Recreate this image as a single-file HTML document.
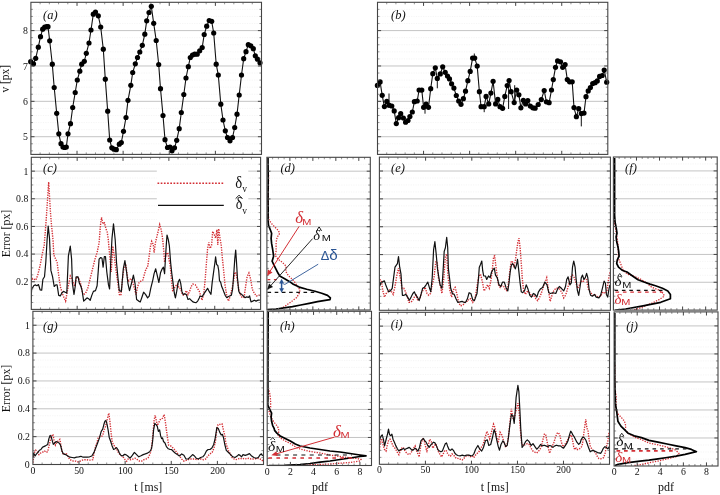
<!DOCTYPE html>
<html><head><meta charset="utf-8"><style>
html,body{margin:0;padding:0;background:#fff;}
body{width:720px;height:495px;overflow:hidden;font-family:"Liberation Serif",serif;}
svg{display:block;}
</style></head><body>
<svg width="720" height="495" viewBox="0 0 720 495" style="filter:blur(0.3px)">
<rect width="720" height="495" fill="#fff"/>
<defs><clipPath id="ca"><rect x="30.9" y="2.3" width="230.6" height="152.1"/></clipPath><clipPath id="cb"><rect x="377.5" y="2.3" width="230.3" height="152.1"/></clipPath><clipPath id="cc"><rect x="31.3" y="157.3" width="229.3" height="152.1"/></clipPath><clipPath id="ce"><rect x="379.4" y="157.1" width="231" height="153.2"/></clipPath><clipPath id="cg"><rect x="32.9" y="311.3" width="230.6" height="153.2"/></clipPath><clipPath id="ci"><rect x="379.4" y="312.3" width="230.1" height="152"/></clipPath><clipPath id="cd"><rect x="266.9" y="157.3" width="103.4" height="152.7"/></clipPath><clipPath id="cf"><rect x="613.4" y="157" width="103.8" height="153.1"/></clipPath><clipPath id="ch"><rect x="267.2" y="311.3" width="104.3" height="154.2"/></clipPath><clipPath id="cj"><rect x="614.1" y="311.9" width="103.9" height="154.1"/></clipPath></defs>
<line x1="30.9" y1="150.86" x2="261.5" y2="150.86" stroke="#f2f2f2" stroke-width="0.8" stroke-dasharray="1.2,1.2"/>
<line x1="30.9" y1="143.79" x2="261.5" y2="143.79" stroke="#f2f2f2" stroke-width="0.8" stroke-dasharray="1.2,1.2"/>
<line x1="30.9" y1="129.64" x2="261.5" y2="129.64" stroke="#f2f2f2" stroke-width="0.8" stroke-dasharray="1.2,1.2"/>
<line x1="30.9" y1="122.57" x2="261.5" y2="122.57" stroke="#f2f2f2" stroke-width="0.8" stroke-dasharray="1.2,1.2"/>
<line x1="30.9" y1="115.49" x2="261.5" y2="115.49" stroke="#f2f2f2" stroke-width="0.8" stroke-dasharray="1.2,1.2"/>
<line x1="30.9" y1="108.42" x2="261.5" y2="108.42" stroke="#f2f2f2" stroke-width="0.8" stroke-dasharray="1.2,1.2"/>
<line x1="30.9" y1="94.27" x2="261.5" y2="94.27" stroke="#f2f2f2" stroke-width="0.8" stroke-dasharray="1.2,1.2"/>
<line x1="30.9" y1="87.19" x2="261.5" y2="87.19" stroke="#f2f2f2" stroke-width="0.8" stroke-dasharray="1.2,1.2"/>
<line x1="30.9" y1="80.12" x2="261.5" y2="80.12" stroke="#f2f2f2" stroke-width="0.8" stroke-dasharray="1.2,1.2"/>
<line x1="30.9" y1="73.04" x2="261.5" y2="73.04" stroke="#f2f2f2" stroke-width="0.8" stroke-dasharray="1.2,1.2"/>
<line x1="30.9" y1="58.9" x2="261.5" y2="58.9" stroke="#f2f2f2" stroke-width="0.8" stroke-dasharray="1.2,1.2"/>
<line x1="30.9" y1="51.82" x2="261.5" y2="51.82" stroke="#f2f2f2" stroke-width="0.8" stroke-dasharray="1.2,1.2"/>
<line x1="30.9" y1="44.75" x2="261.5" y2="44.75" stroke="#f2f2f2" stroke-width="0.8" stroke-dasharray="1.2,1.2"/>
<line x1="30.9" y1="37.67" x2="261.5" y2="37.67" stroke="#f2f2f2" stroke-width="0.8" stroke-dasharray="1.2,1.2"/>
<line x1="30.9" y1="23.52" x2="261.5" y2="23.52" stroke="#f2f2f2" stroke-width="0.8" stroke-dasharray="1.2,1.2"/>
<line x1="30.9" y1="16.45" x2="261.5" y2="16.45" stroke="#f2f2f2" stroke-width="0.8" stroke-dasharray="1.2,1.2"/>
<line x1="30.9" y1="9.37" x2="261.5" y2="9.37" stroke="#f2f2f2" stroke-width="0.8" stroke-dasharray="1.2,1.2"/>
<line x1="30.9" y1="136.71" x2="261.5" y2="136.71" stroke="#c4c4c4" stroke-width="1"/>
<line x1="30.9" y1="101.34" x2="261.5" y2="101.34" stroke="#c4c4c4" stroke-width="1"/>
<line x1="30.9" y1="65.97" x2="261.5" y2="65.97" stroke="#c4c4c4" stroke-width="1"/>
<line x1="30.9" y1="30.6" x2="261.5" y2="30.6" stroke="#c4c4c4" stroke-width="1"/>
<line x1="377.5" y1="150.86" x2="607.8" y2="150.86" stroke="#f2f2f2" stroke-width="0.8" stroke-dasharray="1.2,1.2"/>
<line x1="377.5" y1="143.79" x2="607.8" y2="143.79" stroke="#f2f2f2" stroke-width="0.8" stroke-dasharray="1.2,1.2"/>
<line x1="377.5" y1="129.64" x2="607.8" y2="129.64" stroke="#f2f2f2" stroke-width="0.8" stroke-dasharray="1.2,1.2"/>
<line x1="377.5" y1="122.57" x2="607.8" y2="122.57" stroke="#f2f2f2" stroke-width="0.8" stroke-dasharray="1.2,1.2"/>
<line x1="377.5" y1="115.49" x2="607.8" y2="115.49" stroke="#f2f2f2" stroke-width="0.8" stroke-dasharray="1.2,1.2"/>
<line x1="377.5" y1="108.42" x2="607.8" y2="108.42" stroke="#f2f2f2" stroke-width="0.8" stroke-dasharray="1.2,1.2"/>
<line x1="377.5" y1="94.27" x2="607.8" y2="94.27" stroke="#f2f2f2" stroke-width="0.8" stroke-dasharray="1.2,1.2"/>
<line x1="377.5" y1="87.19" x2="607.8" y2="87.19" stroke="#f2f2f2" stroke-width="0.8" stroke-dasharray="1.2,1.2"/>
<line x1="377.5" y1="80.12" x2="607.8" y2="80.12" stroke="#f2f2f2" stroke-width="0.8" stroke-dasharray="1.2,1.2"/>
<line x1="377.5" y1="73.04" x2="607.8" y2="73.04" stroke="#f2f2f2" stroke-width="0.8" stroke-dasharray="1.2,1.2"/>
<line x1="377.5" y1="58.9" x2="607.8" y2="58.9" stroke="#f2f2f2" stroke-width="0.8" stroke-dasharray="1.2,1.2"/>
<line x1="377.5" y1="51.82" x2="607.8" y2="51.82" stroke="#f2f2f2" stroke-width="0.8" stroke-dasharray="1.2,1.2"/>
<line x1="377.5" y1="44.75" x2="607.8" y2="44.75" stroke="#f2f2f2" stroke-width="0.8" stroke-dasharray="1.2,1.2"/>
<line x1="377.5" y1="37.67" x2="607.8" y2="37.67" stroke="#f2f2f2" stroke-width="0.8" stroke-dasharray="1.2,1.2"/>
<line x1="377.5" y1="23.52" x2="607.8" y2="23.52" stroke="#f2f2f2" stroke-width="0.8" stroke-dasharray="1.2,1.2"/>
<line x1="377.5" y1="16.45" x2="607.8" y2="16.45" stroke="#f2f2f2" stroke-width="0.8" stroke-dasharray="1.2,1.2"/>
<line x1="377.5" y1="9.37" x2="607.8" y2="9.37" stroke="#f2f2f2" stroke-width="0.8" stroke-dasharray="1.2,1.2"/>
<line x1="377.5" y1="136.71" x2="607.8" y2="136.71" stroke="#c4c4c4" stroke-width="1"/>
<line x1="377.5" y1="101.34" x2="607.8" y2="101.34" stroke="#c4c4c4" stroke-width="1"/>
<line x1="377.5" y1="65.97" x2="607.8" y2="65.97" stroke="#c4c4c4" stroke-width="1"/>
<line x1="377.5" y1="30.6" x2="607.8" y2="30.6" stroke="#c4c4c4" stroke-width="1"/>
<line x1="31.3" y1="302.49" x2="260.6" y2="302.49" stroke="#f2f2f2" stroke-width="0.8" stroke-dasharray="1.2,1.2"/>
<line x1="31.3" y1="295.57" x2="260.6" y2="295.57" stroke="#f2f2f2" stroke-width="0.8" stroke-dasharray="1.2,1.2"/>
<line x1="31.3" y1="288.66" x2="260.6" y2="288.66" stroke="#f2f2f2" stroke-width="0.8" stroke-dasharray="1.2,1.2"/>
<line x1="31.3" y1="274.83" x2="260.6" y2="274.83" stroke="#f2f2f2" stroke-width="0.8" stroke-dasharray="1.2,1.2"/>
<line x1="31.3" y1="267.92" x2="260.6" y2="267.92" stroke="#f2f2f2" stroke-width="0.8" stroke-dasharray="1.2,1.2"/>
<line x1="31.3" y1="261" x2="260.6" y2="261" stroke="#f2f2f2" stroke-width="0.8" stroke-dasharray="1.2,1.2"/>
<line x1="31.3" y1="247.18" x2="260.6" y2="247.18" stroke="#f2f2f2" stroke-width="0.8" stroke-dasharray="1.2,1.2"/>
<line x1="31.3" y1="240.26" x2="260.6" y2="240.26" stroke="#f2f2f2" stroke-width="0.8" stroke-dasharray="1.2,1.2"/>
<line x1="31.3" y1="233.35" x2="260.6" y2="233.35" stroke="#f2f2f2" stroke-width="0.8" stroke-dasharray="1.2,1.2"/>
<line x1="31.3" y1="219.52" x2="260.6" y2="219.52" stroke="#f2f2f2" stroke-width="0.8" stroke-dasharray="1.2,1.2"/>
<line x1="31.3" y1="212.61" x2="260.6" y2="212.61" stroke="#f2f2f2" stroke-width="0.8" stroke-dasharray="1.2,1.2"/>
<line x1="31.3" y1="205.7" x2="260.6" y2="205.7" stroke="#f2f2f2" stroke-width="0.8" stroke-dasharray="1.2,1.2"/>
<line x1="31.3" y1="191.87" x2="260.6" y2="191.87" stroke="#f2f2f2" stroke-width="0.8" stroke-dasharray="1.2,1.2"/>
<line x1="31.3" y1="184.95" x2="260.6" y2="184.95" stroke="#f2f2f2" stroke-width="0.8" stroke-dasharray="1.2,1.2"/>
<line x1="31.3" y1="178.04" x2="260.6" y2="178.04" stroke="#f2f2f2" stroke-width="0.8" stroke-dasharray="1.2,1.2"/>
<line x1="31.3" y1="164.21" x2="260.6" y2="164.21" stroke="#f2f2f2" stroke-width="0.8" stroke-dasharray="1.2,1.2"/>
<line x1="31.3" y1="281.75" x2="260.6" y2="281.75" stroke="#c4c4c4" stroke-width="1"/>
<line x1="31.3" y1="254.09" x2="260.6" y2="254.09" stroke="#c4c4c4" stroke-width="1"/>
<line x1="31.3" y1="226.44" x2="260.6" y2="226.44" stroke="#c4c4c4" stroke-width="1"/>
<line x1="31.3" y1="198.78" x2="260.6" y2="198.78" stroke="#c4c4c4" stroke-width="1"/>
<line x1="31.3" y1="171.13" x2="260.6" y2="171.13" stroke="#c4c4c4" stroke-width="1"/>
<line x1="379.4" y1="303.34" x2="610.4" y2="303.34" stroke="#f2f2f2" stroke-width="0.8" stroke-dasharray="1.2,1.2"/>
<line x1="379.4" y1="296.37" x2="610.4" y2="296.37" stroke="#f2f2f2" stroke-width="0.8" stroke-dasharray="1.2,1.2"/>
<line x1="379.4" y1="289.41" x2="610.4" y2="289.41" stroke="#f2f2f2" stroke-width="0.8" stroke-dasharray="1.2,1.2"/>
<line x1="379.4" y1="275.48" x2="610.4" y2="275.48" stroke="#f2f2f2" stroke-width="0.8" stroke-dasharray="1.2,1.2"/>
<line x1="379.4" y1="268.52" x2="610.4" y2="268.52" stroke="#f2f2f2" stroke-width="0.8" stroke-dasharray="1.2,1.2"/>
<line x1="379.4" y1="261.55" x2="610.4" y2="261.55" stroke="#f2f2f2" stroke-width="0.8" stroke-dasharray="1.2,1.2"/>
<line x1="379.4" y1="247.63" x2="610.4" y2="247.63" stroke="#f2f2f2" stroke-width="0.8" stroke-dasharray="1.2,1.2"/>
<line x1="379.4" y1="240.66" x2="610.4" y2="240.66" stroke="#f2f2f2" stroke-width="0.8" stroke-dasharray="1.2,1.2"/>
<line x1="379.4" y1="233.7" x2="610.4" y2="233.7" stroke="#f2f2f2" stroke-width="0.8" stroke-dasharray="1.2,1.2"/>
<line x1="379.4" y1="219.77" x2="610.4" y2="219.77" stroke="#f2f2f2" stroke-width="0.8" stroke-dasharray="1.2,1.2"/>
<line x1="379.4" y1="212.81" x2="610.4" y2="212.81" stroke="#f2f2f2" stroke-width="0.8" stroke-dasharray="1.2,1.2"/>
<line x1="379.4" y1="205.85" x2="610.4" y2="205.85" stroke="#f2f2f2" stroke-width="0.8" stroke-dasharray="1.2,1.2"/>
<line x1="379.4" y1="191.92" x2="610.4" y2="191.92" stroke="#f2f2f2" stroke-width="0.8" stroke-dasharray="1.2,1.2"/>
<line x1="379.4" y1="184.95" x2="610.4" y2="184.95" stroke="#f2f2f2" stroke-width="0.8" stroke-dasharray="1.2,1.2"/>
<line x1="379.4" y1="177.99" x2="610.4" y2="177.99" stroke="#f2f2f2" stroke-width="0.8" stroke-dasharray="1.2,1.2"/>
<line x1="379.4" y1="164.06" x2="610.4" y2="164.06" stroke="#f2f2f2" stroke-width="0.8" stroke-dasharray="1.2,1.2"/>
<line x1="379.4" y1="282.45" x2="610.4" y2="282.45" stroke="#c4c4c4" stroke-width="1"/>
<line x1="379.4" y1="254.59" x2="610.4" y2="254.59" stroke="#c4c4c4" stroke-width="1"/>
<line x1="379.4" y1="226.74" x2="610.4" y2="226.74" stroke="#c4c4c4" stroke-width="1"/>
<line x1="379.4" y1="198.88" x2="610.4" y2="198.88" stroke="#c4c4c4" stroke-width="1"/>
<line x1="379.4" y1="171.03" x2="610.4" y2="171.03" stroke="#c4c4c4" stroke-width="1"/>
<line x1="32.9" y1="457.54" x2="263.5" y2="457.54" stroke="#f2f2f2" stroke-width="0.8" stroke-dasharray="1.2,1.2"/>
<line x1="32.9" y1="450.57" x2="263.5" y2="450.57" stroke="#f2f2f2" stroke-width="0.8" stroke-dasharray="1.2,1.2"/>
<line x1="32.9" y1="443.61" x2="263.5" y2="443.61" stroke="#f2f2f2" stroke-width="0.8" stroke-dasharray="1.2,1.2"/>
<line x1="32.9" y1="429.68" x2="263.5" y2="429.68" stroke="#f2f2f2" stroke-width="0.8" stroke-dasharray="1.2,1.2"/>
<line x1="32.9" y1="422.72" x2="263.5" y2="422.72" stroke="#f2f2f2" stroke-width="0.8" stroke-dasharray="1.2,1.2"/>
<line x1="32.9" y1="415.75" x2="263.5" y2="415.75" stroke="#f2f2f2" stroke-width="0.8" stroke-dasharray="1.2,1.2"/>
<line x1="32.9" y1="401.83" x2="263.5" y2="401.83" stroke="#f2f2f2" stroke-width="0.8" stroke-dasharray="1.2,1.2"/>
<line x1="32.9" y1="394.86" x2="263.5" y2="394.86" stroke="#f2f2f2" stroke-width="0.8" stroke-dasharray="1.2,1.2"/>
<line x1="32.9" y1="387.9" x2="263.5" y2="387.9" stroke="#f2f2f2" stroke-width="0.8" stroke-dasharray="1.2,1.2"/>
<line x1="32.9" y1="373.97" x2="263.5" y2="373.97" stroke="#f2f2f2" stroke-width="0.8" stroke-dasharray="1.2,1.2"/>
<line x1="32.9" y1="367.01" x2="263.5" y2="367.01" stroke="#f2f2f2" stroke-width="0.8" stroke-dasharray="1.2,1.2"/>
<line x1="32.9" y1="360.05" x2="263.5" y2="360.05" stroke="#f2f2f2" stroke-width="0.8" stroke-dasharray="1.2,1.2"/>
<line x1="32.9" y1="346.12" x2="263.5" y2="346.12" stroke="#f2f2f2" stroke-width="0.8" stroke-dasharray="1.2,1.2"/>
<line x1="32.9" y1="339.15" x2="263.5" y2="339.15" stroke="#f2f2f2" stroke-width="0.8" stroke-dasharray="1.2,1.2"/>
<line x1="32.9" y1="332.19" x2="263.5" y2="332.19" stroke="#f2f2f2" stroke-width="0.8" stroke-dasharray="1.2,1.2"/>
<line x1="32.9" y1="318.26" x2="263.5" y2="318.26" stroke="#f2f2f2" stroke-width="0.8" stroke-dasharray="1.2,1.2"/>
<line x1="32.9" y1="436.65" x2="263.5" y2="436.65" stroke="#c4c4c4" stroke-width="1"/>
<line x1="32.9" y1="408.79" x2="263.5" y2="408.79" stroke="#c4c4c4" stroke-width="1"/>
<line x1="32.9" y1="380.94" x2="263.5" y2="380.94" stroke="#c4c4c4" stroke-width="1"/>
<line x1="32.9" y1="353.08" x2="263.5" y2="353.08" stroke="#c4c4c4" stroke-width="1"/>
<line x1="32.9" y1="325.23" x2="263.5" y2="325.23" stroke="#c4c4c4" stroke-width="1"/>
<line x1="379.4" y1="457.39" x2="609.5" y2="457.39" stroke="#f2f2f2" stroke-width="0.8" stroke-dasharray="1.2,1.2"/>
<line x1="379.4" y1="450.48" x2="609.5" y2="450.48" stroke="#f2f2f2" stroke-width="0.8" stroke-dasharray="1.2,1.2"/>
<line x1="379.4" y1="443.57" x2="609.5" y2="443.57" stroke="#f2f2f2" stroke-width="0.8" stroke-dasharray="1.2,1.2"/>
<line x1="379.4" y1="429.75" x2="609.5" y2="429.75" stroke="#f2f2f2" stroke-width="0.8" stroke-dasharray="1.2,1.2"/>
<line x1="379.4" y1="422.85" x2="609.5" y2="422.85" stroke="#f2f2f2" stroke-width="0.8" stroke-dasharray="1.2,1.2"/>
<line x1="379.4" y1="415.94" x2="609.5" y2="415.94" stroke="#f2f2f2" stroke-width="0.8" stroke-dasharray="1.2,1.2"/>
<line x1="379.4" y1="402.12" x2="609.5" y2="402.12" stroke="#f2f2f2" stroke-width="0.8" stroke-dasharray="1.2,1.2"/>
<line x1="379.4" y1="395.21" x2="609.5" y2="395.21" stroke="#f2f2f2" stroke-width="0.8" stroke-dasharray="1.2,1.2"/>
<line x1="379.4" y1="388.3" x2="609.5" y2="388.3" stroke="#f2f2f2" stroke-width="0.8" stroke-dasharray="1.2,1.2"/>
<line x1="379.4" y1="374.48" x2="609.5" y2="374.48" stroke="#f2f2f2" stroke-width="0.8" stroke-dasharray="1.2,1.2"/>
<line x1="379.4" y1="367.57" x2="609.5" y2="367.57" stroke="#f2f2f2" stroke-width="0.8" stroke-dasharray="1.2,1.2"/>
<line x1="379.4" y1="360.66" x2="609.5" y2="360.66" stroke="#f2f2f2" stroke-width="0.8" stroke-dasharray="1.2,1.2"/>
<line x1="379.4" y1="346.85" x2="609.5" y2="346.85" stroke="#f2f2f2" stroke-width="0.8" stroke-dasharray="1.2,1.2"/>
<line x1="379.4" y1="339.94" x2="609.5" y2="339.94" stroke="#f2f2f2" stroke-width="0.8" stroke-dasharray="1.2,1.2"/>
<line x1="379.4" y1="333.03" x2="609.5" y2="333.03" stroke="#f2f2f2" stroke-width="0.8" stroke-dasharray="1.2,1.2"/>
<line x1="379.4" y1="319.21" x2="609.5" y2="319.21" stroke="#f2f2f2" stroke-width="0.8" stroke-dasharray="1.2,1.2"/>
<line x1="379.4" y1="436.66" x2="609.5" y2="436.66" stroke="#c4c4c4" stroke-width="1"/>
<line x1="379.4" y1="409.03" x2="609.5" y2="409.03" stroke="#c4c4c4" stroke-width="1"/>
<line x1="379.4" y1="381.39" x2="609.5" y2="381.39" stroke="#c4c4c4" stroke-width="1"/>
<line x1="379.4" y1="353.75" x2="609.5" y2="353.75" stroke="#c4c4c4" stroke-width="1"/>
<line x1="379.4" y1="326.12" x2="609.5" y2="326.12" stroke="#c4c4c4" stroke-width="1"/>
<line x1="266.9" y1="303.06" x2="370.3" y2="303.06" stroke="#f2f2f2" stroke-width="0.8" stroke-dasharray="1.2,1.2"/>
<line x1="266.9" y1="296.12" x2="370.3" y2="296.12" stroke="#f2f2f2" stroke-width="0.8" stroke-dasharray="1.2,1.2"/>
<line x1="266.9" y1="289.18" x2="370.3" y2="289.18" stroke="#f2f2f2" stroke-width="0.8" stroke-dasharray="1.2,1.2"/>
<line x1="266.9" y1="275.3" x2="370.3" y2="275.3" stroke="#f2f2f2" stroke-width="0.8" stroke-dasharray="1.2,1.2"/>
<line x1="266.9" y1="268.35" x2="370.3" y2="268.35" stroke="#f2f2f2" stroke-width="0.8" stroke-dasharray="1.2,1.2"/>
<line x1="266.9" y1="261.41" x2="370.3" y2="261.41" stroke="#f2f2f2" stroke-width="0.8" stroke-dasharray="1.2,1.2"/>
<line x1="266.9" y1="247.53" x2="370.3" y2="247.53" stroke="#f2f2f2" stroke-width="0.8" stroke-dasharray="1.2,1.2"/>
<line x1="266.9" y1="240.59" x2="370.3" y2="240.59" stroke="#f2f2f2" stroke-width="0.8" stroke-dasharray="1.2,1.2"/>
<line x1="266.9" y1="233.65" x2="370.3" y2="233.65" stroke="#f2f2f2" stroke-width="0.8" stroke-dasharray="1.2,1.2"/>
<line x1="266.9" y1="219.77" x2="370.3" y2="219.77" stroke="#f2f2f2" stroke-width="0.8" stroke-dasharray="1.2,1.2"/>
<line x1="266.9" y1="212.83" x2="370.3" y2="212.83" stroke="#f2f2f2" stroke-width="0.8" stroke-dasharray="1.2,1.2"/>
<line x1="266.9" y1="205.89" x2="370.3" y2="205.89" stroke="#f2f2f2" stroke-width="0.8" stroke-dasharray="1.2,1.2"/>
<line x1="266.9" y1="192" x2="370.3" y2="192" stroke="#f2f2f2" stroke-width="0.8" stroke-dasharray="1.2,1.2"/>
<line x1="266.9" y1="185.06" x2="370.3" y2="185.06" stroke="#f2f2f2" stroke-width="0.8" stroke-dasharray="1.2,1.2"/>
<line x1="266.9" y1="178.12" x2="370.3" y2="178.12" stroke="#f2f2f2" stroke-width="0.8" stroke-dasharray="1.2,1.2"/>
<line x1="266.9" y1="164.24" x2="370.3" y2="164.24" stroke="#f2f2f2" stroke-width="0.8" stroke-dasharray="1.2,1.2"/>
<line x1="266.9" y1="282.24" x2="370.3" y2="282.24" stroke="#c4c4c4" stroke-width="1"/>
<line x1="266.9" y1="254.47" x2="370.3" y2="254.47" stroke="#c4c4c4" stroke-width="1"/>
<line x1="266.9" y1="226.71" x2="370.3" y2="226.71" stroke="#c4c4c4" stroke-width="1"/>
<line x1="266.9" y1="198.95" x2="370.3" y2="198.95" stroke="#c4c4c4" stroke-width="1"/>
<line x1="266.9" y1="171.18" x2="370.3" y2="171.18" stroke="#c4c4c4" stroke-width="1"/>
<line x1="613.4" y1="303.14" x2="717.2" y2="303.14" stroke="#f2f2f2" stroke-width="0.8" stroke-dasharray="1.2,1.2"/>
<line x1="613.4" y1="296.18" x2="717.2" y2="296.18" stroke="#f2f2f2" stroke-width="0.8" stroke-dasharray="1.2,1.2"/>
<line x1="613.4" y1="289.22" x2="717.2" y2="289.22" stroke="#f2f2f2" stroke-width="0.8" stroke-dasharray="1.2,1.2"/>
<line x1="613.4" y1="275.3" x2="717.2" y2="275.3" stroke="#f2f2f2" stroke-width="0.8" stroke-dasharray="1.2,1.2"/>
<line x1="613.4" y1="268.35" x2="717.2" y2="268.35" stroke="#f2f2f2" stroke-width="0.8" stroke-dasharray="1.2,1.2"/>
<line x1="613.4" y1="261.39" x2="717.2" y2="261.39" stroke="#f2f2f2" stroke-width="0.8" stroke-dasharray="1.2,1.2"/>
<line x1="613.4" y1="247.47" x2="717.2" y2="247.47" stroke="#f2f2f2" stroke-width="0.8" stroke-dasharray="1.2,1.2"/>
<line x1="613.4" y1="240.51" x2="717.2" y2="240.51" stroke="#f2f2f2" stroke-width="0.8" stroke-dasharray="1.2,1.2"/>
<line x1="613.4" y1="233.55" x2="717.2" y2="233.55" stroke="#f2f2f2" stroke-width="0.8" stroke-dasharray="1.2,1.2"/>
<line x1="613.4" y1="219.63" x2="717.2" y2="219.63" stroke="#f2f2f2" stroke-width="0.8" stroke-dasharray="1.2,1.2"/>
<line x1="613.4" y1="212.67" x2="717.2" y2="212.67" stroke="#f2f2f2" stroke-width="0.8" stroke-dasharray="1.2,1.2"/>
<line x1="613.4" y1="205.71" x2="717.2" y2="205.71" stroke="#f2f2f2" stroke-width="0.8" stroke-dasharray="1.2,1.2"/>
<line x1="613.4" y1="191.8" x2="717.2" y2="191.8" stroke="#f2f2f2" stroke-width="0.8" stroke-dasharray="1.2,1.2"/>
<line x1="613.4" y1="184.84" x2="717.2" y2="184.84" stroke="#f2f2f2" stroke-width="0.8" stroke-dasharray="1.2,1.2"/>
<line x1="613.4" y1="177.88" x2="717.2" y2="177.88" stroke="#f2f2f2" stroke-width="0.8" stroke-dasharray="1.2,1.2"/>
<line x1="613.4" y1="163.96" x2="717.2" y2="163.96" stroke="#f2f2f2" stroke-width="0.8" stroke-dasharray="1.2,1.2"/>
<line x1="613.4" y1="282.26" x2="717.2" y2="282.26" stroke="#c4c4c4" stroke-width="1"/>
<line x1="613.4" y1="254.43" x2="717.2" y2="254.43" stroke="#c4c4c4" stroke-width="1"/>
<line x1="613.4" y1="226.59" x2="717.2" y2="226.59" stroke="#c4c4c4" stroke-width="1"/>
<line x1="613.4" y1="198.75" x2="717.2" y2="198.75" stroke="#c4c4c4" stroke-width="1"/>
<line x1="613.4" y1="170.92" x2="717.2" y2="170.92" stroke="#c4c4c4" stroke-width="1"/>
<line x1="267.2" y1="458.49" x2="371.5" y2="458.49" stroke="#f2f2f2" stroke-width="0.8" stroke-dasharray="1.2,1.2"/>
<line x1="267.2" y1="451.48" x2="371.5" y2="451.48" stroke="#f2f2f2" stroke-width="0.8" stroke-dasharray="1.2,1.2"/>
<line x1="267.2" y1="444.47" x2="371.5" y2="444.47" stroke="#f2f2f2" stroke-width="0.8" stroke-dasharray="1.2,1.2"/>
<line x1="267.2" y1="430.45" x2="371.5" y2="430.45" stroke="#f2f2f2" stroke-width="0.8" stroke-dasharray="1.2,1.2"/>
<line x1="267.2" y1="423.45" x2="371.5" y2="423.45" stroke="#f2f2f2" stroke-width="0.8" stroke-dasharray="1.2,1.2"/>
<line x1="267.2" y1="416.44" x2="371.5" y2="416.44" stroke="#f2f2f2" stroke-width="0.8" stroke-dasharray="1.2,1.2"/>
<line x1="267.2" y1="402.42" x2="371.5" y2="402.42" stroke="#f2f2f2" stroke-width="0.8" stroke-dasharray="1.2,1.2"/>
<line x1="267.2" y1="395.41" x2="371.5" y2="395.41" stroke="#f2f2f2" stroke-width="0.8" stroke-dasharray="1.2,1.2"/>
<line x1="267.2" y1="388.4" x2="371.5" y2="388.4" stroke="#f2f2f2" stroke-width="0.8" stroke-dasharray="1.2,1.2"/>
<line x1="267.2" y1="374.38" x2="371.5" y2="374.38" stroke="#f2f2f2" stroke-width="0.8" stroke-dasharray="1.2,1.2"/>
<line x1="267.2" y1="367.37" x2="371.5" y2="367.37" stroke="#f2f2f2" stroke-width="0.8" stroke-dasharray="1.2,1.2"/>
<line x1="267.2" y1="360.36" x2="371.5" y2="360.36" stroke="#f2f2f2" stroke-width="0.8" stroke-dasharray="1.2,1.2"/>
<line x1="267.2" y1="346.35" x2="371.5" y2="346.35" stroke="#f2f2f2" stroke-width="0.8" stroke-dasharray="1.2,1.2"/>
<line x1="267.2" y1="339.34" x2="371.5" y2="339.34" stroke="#f2f2f2" stroke-width="0.8" stroke-dasharray="1.2,1.2"/>
<line x1="267.2" y1="332.33" x2="371.5" y2="332.33" stroke="#f2f2f2" stroke-width="0.8" stroke-dasharray="1.2,1.2"/>
<line x1="267.2" y1="318.31" x2="371.5" y2="318.31" stroke="#f2f2f2" stroke-width="0.8" stroke-dasharray="1.2,1.2"/>
<line x1="267.2" y1="437.46" x2="371.5" y2="437.46" stroke="#c4c4c4" stroke-width="1"/>
<line x1="267.2" y1="409.43" x2="371.5" y2="409.43" stroke="#c4c4c4" stroke-width="1"/>
<line x1="267.2" y1="381.39" x2="371.5" y2="381.39" stroke="#c4c4c4" stroke-width="1"/>
<line x1="267.2" y1="353.35" x2="371.5" y2="353.35" stroke="#c4c4c4" stroke-width="1"/>
<line x1="267.2" y1="325.32" x2="371.5" y2="325.32" stroke="#c4c4c4" stroke-width="1"/>
<line x1="614.1" y1="459" x2="718" y2="459" stroke="#f2f2f2" stroke-width="0.8" stroke-dasharray="1.2,1.2"/>
<line x1="614.1" y1="451.99" x2="718" y2="451.99" stroke="#f2f2f2" stroke-width="0.8" stroke-dasharray="1.2,1.2"/>
<line x1="614.1" y1="444.99" x2="718" y2="444.99" stroke="#f2f2f2" stroke-width="0.8" stroke-dasharray="1.2,1.2"/>
<line x1="614.1" y1="430.98" x2="718" y2="430.98" stroke="#f2f2f2" stroke-width="0.8" stroke-dasharray="1.2,1.2"/>
<line x1="614.1" y1="423.97" x2="718" y2="423.97" stroke="#f2f2f2" stroke-width="0.8" stroke-dasharray="1.2,1.2"/>
<line x1="614.1" y1="416.97" x2="718" y2="416.97" stroke="#f2f2f2" stroke-width="0.8" stroke-dasharray="1.2,1.2"/>
<line x1="614.1" y1="402.96" x2="718" y2="402.96" stroke="#f2f2f2" stroke-width="0.8" stroke-dasharray="1.2,1.2"/>
<line x1="614.1" y1="395.95" x2="718" y2="395.95" stroke="#f2f2f2" stroke-width="0.8" stroke-dasharray="1.2,1.2"/>
<line x1="614.1" y1="388.95" x2="718" y2="388.95" stroke="#f2f2f2" stroke-width="0.8" stroke-dasharray="1.2,1.2"/>
<line x1="614.1" y1="374.94" x2="718" y2="374.94" stroke="#f2f2f2" stroke-width="0.8" stroke-dasharray="1.2,1.2"/>
<line x1="614.1" y1="367.94" x2="718" y2="367.94" stroke="#f2f2f2" stroke-width="0.8" stroke-dasharray="1.2,1.2"/>
<line x1="614.1" y1="360.93" x2="718" y2="360.93" stroke="#f2f2f2" stroke-width="0.8" stroke-dasharray="1.2,1.2"/>
<line x1="614.1" y1="346.92" x2="718" y2="346.92" stroke="#f2f2f2" stroke-width="0.8" stroke-dasharray="1.2,1.2"/>
<line x1="614.1" y1="339.92" x2="718" y2="339.92" stroke="#f2f2f2" stroke-width="0.8" stroke-dasharray="1.2,1.2"/>
<line x1="614.1" y1="332.91" x2="718" y2="332.91" stroke="#f2f2f2" stroke-width="0.8" stroke-dasharray="1.2,1.2"/>
<line x1="614.1" y1="318.9" x2="718" y2="318.9" stroke="#f2f2f2" stroke-width="0.8" stroke-dasharray="1.2,1.2"/>
<line x1="614.1" y1="437.98" x2="718" y2="437.98" stroke="#c4c4c4" stroke-width="1"/>
<line x1="614.1" y1="409.96" x2="718" y2="409.96" stroke="#c4c4c4" stroke-width="1"/>
<line x1="614.1" y1="381.95" x2="718" y2="381.95" stroke="#c4c4c4" stroke-width="1"/>
<line x1="614.1" y1="353.93" x2="718" y2="353.93" stroke="#c4c4c4" stroke-width="1"/>
<line x1="614.1" y1="325.91" x2="718" y2="325.91" stroke="#c4c4c4" stroke-width="1"/>
<rect x="156.8" y="166" width="91.5" height="57.5" fill="#fff"/>
<g><polyline points="30.7,61.7 33.5,63.8 35.7,58.3 38.3,47.2 40.5,36.7 42.7,29.2 44.7,27.2 46.7,26.7 48,26.7 49.7,40.8 52.3,64.2 54.2,87.5 56.7,113.3 58.8,133.8 61,143.7 63,147 64.7,147.5 66.3,147 68,133.8 70.5,123.7 72.7,107.5 75.2,92.5 77.3,80 79.8,71.2 81.7,64.2 84.3,61.3 86.3,53.3 89,43 91,30 93.3,14.2 95.5,12 98.3,15.8 100.7,27 103.3,49.2 105.3,79.2 107.7,111.2 109.7,140 111.8,147.8 114,149.2 116.3,149.7 119.3,144.2 121.3,142.5 123.5,131.3 126,117.5 128,100.3 130.8,85.3 132.7,72.5 135.3,63.8 137.5,57.5 139.8,52 142.3,45.3 144.8,34.2 146.7,20.8 149,12.5 151.3,6.3 153.7,23.3 156.2,40.5 158.7,64.5 160.5,88.7 163,115.5 165,139.7 167.5,147.5 170,147 172,150.8 174.5,147.8 176.7,140.3 179.2,128.7 181.3,112.5 183.8,94.5 186,78 188.3,66.7 190.3,57.5 192.5,55 194.7,54.2 197.2,54.2 199.7,50.8 202.2,47.5 204.2,34.5 206.7,26.2 209.2,20.5 211.7,21.3 213.7,33 216.2,64.2 218.3,75 220.8,104.2 223,120 225.3,130.8 227.5,137.5 230,140.8 232.5,137.5 234.7,127.5 237,114.2 239.2,95 241.5,75 243.7,58.7 246,51.7 248.3,44.7 250.8,45.8 253.3,48.7 255.3,55.8 257.5,59.2 260,62.8" fill="none" stroke="#111" stroke-width="1.1"/>
<circle cx="30.7" cy="61.7" r="2.6" fill="#000"/><circle cx="33.5" cy="63.8" r="2.6" fill="#000"/><circle cx="35.7" cy="58.3" r="2.6" fill="#000"/><circle cx="38.3" cy="47.2" r="2.6" fill="#000"/><circle cx="40.5" cy="36.7" r="2.6" fill="#000"/><circle cx="42.7" cy="29.2" r="2.6" fill="#000"/><circle cx="44.7" cy="27.2" r="2.6" fill="#000"/><circle cx="46.7" cy="26.7" r="2.6" fill="#000"/><circle cx="48" cy="26.7" r="2.6" fill="#000"/><circle cx="49.7" cy="40.8" r="2.6" fill="#000"/><circle cx="52.3" cy="64.2" r="2.6" fill="#000"/><circle cx="54.2" cy="87.5" r="2.6" fill="#000"/><circle cx="56.7" cy="113.3" r="2.6" fill="#000"/><circle cx="58.8" cy="133.8" r="2.6" fill="#000"/><circle cx="61" cy="143.7" r="2.6" fill="#000"/><circle cx="63" cy="147" r="2.6" fill="#000"/><circle cx="64.7" cy="147.5" r="2.6" fill="#000"/><circle cx="66.3" cy="147" r="2.6" fill="#000"/><circle cx="68" cy="133.8" r="2.6" fill="#000"/><circle cx="70.5" cy="123.7" r="2.6" fill="#000"/><circle cx="72.7" cy="107.5" r="2.6" fill="#000"/><circle cx="75.2" cy="92.5" r="2.6" fill="#000"/><circle cx="77.3" cy="80" r="2.6" fill="#000"/><circle cx="79.8" cy="71.2" r="2.6" fill="#000"/><circle cx="81.7" cy="64.2" r="2.6" fill="#000"/><circle cx="84.3" cy="61.3" r="2.6" fill="#000"/><circle cx="86.3" cy="53.3" r="2.6" fill="#000"/><circle cx="89" cy="43" r="2.6" fill="#000"/><circle cx="91" cy="30" r="2.6" fill="#000"/><circle cx="93.3" cy="14.2" r="2.6" fill="#000"/><circle cx="95.5" cy="12" r="2.6" fill="#000"/><circle cx="98.3" cy="15.8" r="2.6" fill="#000"/><circle cx="100.7" cy="27" r="2.6" fill="#000"/><circle cx="103.3" cy="49.2" r="2.6" fill="#000"/><circle cx="105.3" cy="79.2" r="2.6" fill="#000"/><circle cx="107.7" cy="111.2" r="2.6" fill="#000"/><circle cx="109.7" cy="140" r="2.6" fill="#000"/><circle cx="111.8" cy="147.8" r="2.6" fill="#000"/><circle cx="114" cy="149.2" r="2.6" fill="#000"/><circle cx="116.3" cy="149.7" r="2.6" fill="#000"/><circle cx="119.3" cy="144.2" r="2.6" fill="#000"/><circle cx="121.3" cy="142.5" r="2.6" fill="#000"/><circle cx="123.5" cy="131.3" r="2.6" fill="#000"/><circle cx="126" cy="117.5" r="2.6" fill="#000"/><circle cx="128" cy="100.3" r="2.6" fill="#000"/><circle cx="130.8" cy="85.3" r="2.6" fill="#000"/><circle cx="132.7" cy="72.5" r="2.6" fill="#000"/><circle cx="135.3" cy="63.8" r="2.6" fill="#000"/><circle cx="137.5" cy="57.5" r="2.6" fill="#000"/><circle cx="139.8" cy="52" r="2.6" fill="#000"/><circle cx="142.3" cy="45.3" r="2.6" fill="#000"/><circle cx="144.8" cy="34.2" r="2.6" fill="#000"/><circle cx="146.7" cy="20.8" r="2.6" fill="#000"/><circle cx="149" cy="12.5" r="2.6" fill="#000"/><circle cx="151.3" cy="6.3" r="2.6" fill="#000"/><circle cx="153.7" cy="23.3" r="2.6" fill="#000"/><circle cx="156.2" cy="40.5" r="2.6" fill="#000"/><circle cx="158.7" cy="64.5" r="2.6" fill="#000"/><circle cx="160.5" cy="88.7" r="2.6" fill="#000"/><circle cx="163" cy="115.5" r="2.6" fill="#000"/><circle cx="165" cy="139.7" r="2.6" fill="#000"/><circle cx="167.5" cy="147.5" r="2.6" fill="#000"/><circle cx="170" cy="147" r="2.6" fill="#000"/><circle cx="172" cy="150.8" r="2.6" fill="#000"/><circle cx="174.5" cy="147.8" r="2.6" fill="#000"/><circle cx="176.7" cy="140.3" r="2.6" fill="#000"/><circle cx="179.2" cy="128.7" r="2.6" fill="#000"/><circle cx="181.3" cy="112.5" r="2.6" fill="#000"/><circle cx="183.8" cy="94.5" r="2.6" fill="#000"/><circle cx="186" cy="78" r="2.6" fill="#000"/><circle cx="188.3" cy="66.7" r="2.6" fill="#000"/><circle cx="190.3" cy="57.5" r="2.6" fill="#000"/><circle cx="192.5" cy="55" r="2.6" fill="#000"/><circle cx="194.7" cy="54.2" r="2.6" fill="#000"/><circle cx="197.2" cy="54.2" r="2.6" fill="#000"/><circle cx="199.7" cy="50.8" r="2.6" fill="#000"/><circle cx="202.2" cy="47.5" r="2.6" fill="#000"/><circle cx="204.2" cy="34.5" r="2.6" fill="#000"/><circle cx="206.7" cy="26.2" r="2.6" fill="#000"/><circle cx="209.2" cy="20.5" r="2.6" fill="#000"/><circle cx="211.7" cy="21.3" r="2.6" fill="#000"/><circle cx="213.7" cy="33" r="2.6" fill="#000"/><circle cx="216.2" cy="64.2" r="2.6" fill="#000"/><circle cx="218.3" cy="75" r="2.6" fill="#000"/><circle cx="220.8" cy="104.2" r="2.6" fill="#000"/><circle cx="223" cy="120" r="2.6" fill="#000"/><circle cx="225.3" cy="130.8" r="2.6" fill="#000"/><circle cx="227.5" cy="137.5" r="2.6" fill="#000"/><circle cx="230" cy="140.8" r="2.6" fill="#000"/><circle cx="232.5" cy="137.5" r="2.6" fill="#000"/><circle cx="234.7" cy="127.5" r="2.6" fill="#000"/><circle cx="237" cy="114.2" r="2.6" fill="#000"/><circle cx="239.2" cy="95" r="2.6" fill="#000"/><circle cx="241.5" cy="75" r="2.6" fill="#000"/><circle cx="243.7" cy="58.7" r="2.6" fill="#000"/><circle cx="246" cy="51.7" r="2.6" fill="#000"/><circle cx="248.3" cy="44.7" r="2.6" fill="#000"/><circle cx="250.8" cy="45.8" r="2.6" fill="#000"/><circle cx="253.3" cy="48.7" r="2.6" fill="#000"/><circle cx="255.3" cy="55.8" r="2.6" fill="#000"/><circle cx="257.5" cy="59.2" r="2.6" fill="#000"/><circle cx="260" cy="62.8" r="2.6" fill="#000"/></g>
<g><polyline points="377.4,85.4 380.1,81.9 382.2,95.3 384.4,106.6 386.8,101.4 389,105.2 391.8,106 394.2,110.9 396.3,123.6 398.6,117.7 400.7,113.7 403.4,118 405.6,122.2 408,120.5 409.9,116.5 412.3,112 414.4,101.7 417.2,101 419.1,90 421.8,90.1 423.6,107.3 426.1,104.1 428.5,107.3 430.7,88.7 432.8,73.7 435.3,67.8 437.3,78.4 440.3,73.9 442.7,66.8 445.2,72.3 447.5,76 449.5,78.9 451.6,83.8 453.9,88.1 456.3,95.5 458.7,101.1 461,104.3 463.4,98.7 465.5,91.2 467.9,80.7 470.2,71.4 472.6,58.1 474.7,58.1 477.2,66.1 479.4,91.7 481.1,106.7 484.2,106.7 486.1,96.4 488.7,103.9 490.9,93.1 493.1,81.3 495.6,103.9 497.8,99.4 500,106.7 502.6,108.3 504.8,96.4 507.2,85.6 509.1,80.6 511.1,91.7 514.2,102.6 516.7,90 518.9,94.8 520.9,107.8 523.3,100.3 525.6,103.9 527.8,100.6 530.3,106.1 532.8,107.8 535.1,108.2 538.2,104.5 541.3,99.6 544.2,90.5 546.4,101.8 549.1,102.7 551.5,90 553.3,79.6 555.5,67.3 557.6,60.9 560.5,61.8 562.7,67.3 565.1,64.5 567.3,79.6 569.6,81.8 572.2,81.8 574,107.6 576.4,116.7 578.7,108.7 581.3,113.6 584,113.1 586,96.7 588.2,90.9 590.4,87.6 592.7,83.6 595.1,82.7 597.3,80.9 599.6,76.4 602.2,75.5 604.2,70 606.7,82.2" fill="none" stroke="#111" stroke-width="1.1"/>
<line x1="389" y1="93.5" x2="389" y2="108" stroke="#111" stroke-width="1"/><line x1="437.3" y1="76" x2="437.3" y2="88.3" stroke="#111" stroke-width="1"/><line x1="474.3" y1="53.5" x2="474.3" y2="60" stroke="#111" stroke-width="1"/><line x1="484.2" y1="106" x2="484.2" y2="112.2" stroke="#111" stroke-width="1"/><line x1="508.6" y1="85" x2="508.6" y2="109" stroke="#111" stroke-width="1"/><line x1="514.7" y1="85.2" x2="514.7" y2="100" stroke="#111" stroke-width="1"/><line x1="581.3" y1="112" x2="581.3" y2="126.4" stroke="#111" stroke-width="1"/><line x1="425" y1="103" x2="425" y2="113.7" stroke="#111" stroke-width="1"/>
<circle cx="377.4" cy="85.4" r="2.6" fill="#000"/><circle cx="380.1" cy="81.9" r="2.6" fill="#000"/><circle cx="382.2" cy="95.3" r="2.6" fill="#000"/><circle cx="384.4" cy="106.6" r="2.6" fill="#000"/><circle cx="386.8" cy="101.4" r="2.6" fill="#000"/><circle cx="389" cy="105.2" r="2.6" fill="#000"/><circle cx="391.8" cy="106" r="2.6" fill="#000"/><circle cx="394.2" cy="110.9" r="2.6" fill="#000"/><circle cx="396.3" cy="123.6" r="2.6" fill="#000"/><circle cx="398.6" cy="117.7" r="2.6" fill="#000"/><circle cx="400.7" cy="113.7" r="2.6" fill="#000"/><circle cx="403.4" cy="118" r="2.6" fill="#000"/><circle cx="405.6" cy="122.2" r="2.6" fill="#000"/><circle cx="408" cy="120.5" r="2.6" fill="#000"/><circle cx="409.9" cy="116.5" r="2.6" fill="#000"/><circle cx="412.3" cy="112" r="2.6" fill="#000"/><circle cx="414.4" cy="101.7" r="2.6" fill="#000"/><circle cx="417.2" cy="101" r="2.6" fill="#000"/><circle cx="419.1" cy="90" r="2.6" fill="#000"/><circle cx="421.8" cy="90.1" r="2.6" fill="#000"/><circle cx="423.6" cy="107.3" r="2.6" fill="#000"/><circle cx="426.1" cy="104.1" r="2.6" fill="#000"/><circle cx="428.5" cy="107.3" r="2.6" fill="#000"/><circle cx="430.7" cy="88.7" r="2.6" fill="#000"/><circle cx="432.8" cy="73.7" r="2.6" fill="#000"/><circle cx="435.3" cy="67.8" r="2.6" fill="#000"/><circle cx="437.3" cy="78.4" r="2.6" fill="#000"/><circle cx="440.3" cy="73.9" r="2.6" fill="#000"/><circle cx="442.7" cy="66.8" r="2.6" fill="#000"/><circle cx="445.2" cy="72.3" r="2.6" fill="#000"/><circle cx="447.5" cy="76" r="2.6" fill="#000"/><circle cx="449.5" cy="78.9" r="2.6" fill="#000"/><circle cx="451.6" cy="83.8" r="2.6" fill="#000"/><circle cx="453.9" cy="88.1" r="2.6" fill="#000"/><circle cx="456.3" cy="95.5" r="2.6" fill="#000"/><circle cx="458.7" cy="101.1" r="2.6" fill="#000"/><circle cx="461" cy="104.3" r="2.6" fill="#000"/><circle cx="463.4" cy="98.7" r="2.6" fill="#000"/><circle cx="465.5" cy="91.2" r="2.6" fill="#000"/><circle cx="467.9" cy="80.7" r="2.6" fill="#000"/><circle cx="470.2" cy="71.4" r="2.6" fill="#000"/><circle cx="472.6" cy="58.1" r="2.6" fill="#000"/><circle cx="474.7" cy="58.1" r="2.6" fill="#000"/><circle cx="477.2" cy="66.1" r="2.6" fill="#000"/><circle cx="479.4" cy="91.7" r="2.6" fill="#000"/><circle cx="481.1" cy="106.7" r="2.6" fill="#000"/><circle cx="484.2" cy="106.7" r="2.6" fill="#000"/><circle cx="486.1" cy="96.4" r="2.6" fill="#000"/><circle cx="488.7" cy="103.9" r="2.6" fill="#000"/><circle cx="490.9" cy="93.1" r="2.6" fill="#000"/><circle cx="493.1" cy="81.3" r="2.6" fill="#000"/><circle cx="495.6" cy="103.9" r="2.6" fill="#000"/><circle cx="497.8" cy="99.4" r="2.6" fill="#000"/><circle cx="500" cy="106.7" r="2.6" fill="#000"/><circle cx="502.6" cy="108.3" r="2.6" fill="#000"/><circle cx="504.8" cy="96.4" r="2.6" fill="#000"/><circle cx="507.2" cy="85.6" r="2.6" fill="#000"/><circle cx="509.1" cy="80.6" r="2.6" fill="#000"/><circle cx="511.1" cy="91.7" r="2.6" fill="#000"/><circle cx="514.2" cy="102.6" r="2.6" fill="#000"/><circle cx="516.7" cy="90" r="2.6" fill="#000"/><circle cx="518.9" cy="94.8" r="2.6" fill="#000"/><circle cx="520.9" cy="107.8" r="2.6" fill="#000"/><circle cx="523.3" cy="100.3" r="2.6" fill="#000"/><circle cx="525.6" cy="103.9" r="2.6" fill="#000"/><circle cx="527.8" cy="100.6" r="2.6" fill="#000"/><circle cx="530.3" cy="106.1" r="2.6" fill="#000"/><circle cx="532.8" cy="107.8" r="2.6" fill="#000"/><circle cx="535.1" cy="108.2" r="2.6" fill="#000"/><circle cx="538.2" cy="104.5" r="2.6" fill="#000"/><circle cx="541.3" cy="99.6" r="2.6" fill="#000"/><circle cx="544.2" cy="90.5" r="2.6" fill="#000"/><circle cx="546.4" cy="101.8" r="2.6" fill="#000"/><circle cx="549.1" cy="102.7" r="2.6" fill="#000"/><circle cx="551.5" cy="90" r="2.6" fill="#000"/><circle cx="553.3" cy="79.6" r="2.6" fill="#000"/><circle cx="555.5" cy="67.3" r="2.6" fill="#000"/><circle cx="557.6" cy="60.9" r="2.6" fill="#000"/><circle cx="560.5" cy="61.8" r="2.6" fill="#000"/><circle cx="562.7" cy="67.3" r="2.6" fill="#000"/><circle cx="565.1" cy="64.5" r="2.6" fill="#000"/><circle cx="567.3" cy="79.6" r="2.6" fill="#000"/><circle cx="569.6" cy="81.8" r="2.6" fill="#000"/><circle cx="572.2" cy="81.8" r="2.6" fill="#000"/><circle cx="574" cy="107.6" r="2.6" fill="#000"/><circle cx="576.4" cy="116.7" r="2.6" fill="#000"/><circle cx="578.7" cy="108.7" r="2.6" fill="#000"/><circle cx="581.3" cy="113.6" r="2.6" fill="#000"/><circle cx="584" cy="113.1" r="2.6" fill="#000"/><circle cx="586" cy="96.7" r="2.6" fill="#000"/><circle cx="588.2" cy="90.9" r="2.6" fill="#000"/><circle cx="590.4" cy="87.6" r="2.6" fill="#000"/><circle cx="592.7" cy="83.6" r="2.6" fill="#000"/><circle cx="595.1" cy="82.7" r="2.6" fill="#000"/><circle cx="597.3" cy="80.9" r="2.6" fill="#000"/><circle cx="599.6" cy="76.4" r="2.6" fill="#000"/><circle cx="602.2" cy="75.5" r="2.6" fill="#000"/><circle cx="604.2" cy="70" r="2.6" fill="#000"/><circle cx="606.7" cy="82.2" r="2.6" fill="#000"/></g>
<g clip-path="url(#cc)">
<polyline points="30.9,281.7 32.8,278.5 35.8,280.1 37.7,275.2 40.1,265.5 42.2,254.2 44.2,245.3 45.4,230 46.5,215 47.5,200 48.7,182 49.5,196 50.5,213 51.5,225 53,240 53.8,255 57.1,262.3 58.7,275.2 60.3,286.5 62.7,294.6 65.6,301.1 67.6,289.8 70.3,276 72.4,280.1 74.8,286.5 76.5,276.8 78.4,277.7 80.5,283.3 82.9,294.6 85.4,293.8 87.8,288.2 90.2,278.5 92.6,268.8 95,259.1 97.1,252.6 99.1,242.9 100.5,225 101.5,217.4 103,224 104.5,223 106,229 107.2,232 108.3,239.7 109.6,254.2 111.2,272 112.8,246.2 114.4,257.5 116,270.4 117.7,281.7 119.3,294.6 120.9,295.4 122.5,278.5 124.1,267.2 125.7,263.9 127.4,276.8 128.2,281.7 130.7,278.5 132.3,280.1 133.9,286.5 136,294.6 137.6,286.5 139.2,282.5 141.2,280.9 142.8,280.1 144.4,274.4 146,268.8 147.6,267.2 149.2,255.8 150.5,246.2 151.7,241.3 153.3,244.5 154.1,252.6 155.4,242.9 156.5,238.1 158.1,231.6 159.7,224.6 161.3,230 162.5,238.1 163.8,251 164.6,262.3 166.2,254.2 167.8,252.6 168.9,259.1 170.2,265.5 171.5,280.1 172.7,291.4 174.3,288.2 175.9,285.7 177.5,284.1 179.1,288.2 180.7,289 182.4,294.6 184,295.4 186.4,290.6 188,294.6 189.6,291.4 191.2,286.5 192.9,284.1 195.3,284.9 197.4,288.2 199.3,291.4 200.9,296.2 202,300.2 203.7,294.3 205.1,280.7 206.5,262 207.6,248.4 208.8,242.4 210.2,248.4 211.6,245 212.7,231.4 214.4,234.8 215.6,238.2 217,229.7 217.8,245 218.7,228.8 220,238.2 221.2,245 222.4,258.6 223.8,272.2 225.1,285.8 226.8,296 228.5,301.1 230.2,296 231.9,289.2 233.6,280.7 234.8,272.2 236,273 237.4,280.7 239.1,290.9 240.8,296 242.5,297.7 244.2,296.8 245.9,284.1 247.2,276.4 248.9,273 250.6,279 252.3,289.2 254.4,293.4 256.4,296 258.6,295.1 259.8,295.1" fill="none" stroke="#d32e34" stroke-width="1.4" stroke-dasharray="1.3,1.2"/>
<polyline points="30.9,302.7 31.6,289.8 33.7,285.7 35.3,284.9 36.9,285.7 38.5,284.6 40.1,289.8 41.7,290.1 42.9,279.3 44.5,276.8 45.8,262.3 47.1,239.7 48.2,226.2 49.5,238.1 50.9,270.4 52.6,276.8 54.2,286.5 55.8,284.9 57.1,284.9 58.7,295.4 60.3,295.9 61.9,293 63.5,291.4 65.2,292.2 66.8,293 68.4,255.8 70.3,246.2 71.6,259.1 72.4,283.3 74,294.3 75.2,286.5 76.1,276.8 78.1,276.8 79.4,283.3 81,286.5 82.1,290.6 83.7,301.1 85.4,299.5 87,297.9 88.6,298.7 90.2,300.3 91.8,295.4 93.4,291.4 95.5,290.6 97.1,285.7 98.3,270.4 99.1,259.1 100.7,257.5 102,258.3 103.1,267.2 104.3,256.7 105.5,256.7 106.8,272 108.5,284.9 109.6,289 110.7,262.3 112,238.1 113.5,223.8 115.2,239.7 116.5,262.3 118,278.5 119.3,290.6 121.4,291.4 123.3,268.8 124.9,260.7 126.6,272 127.9,283.3 129.5,290.6 131.5,283.3 133.4,275.2 135,283.3 136.6,299.5 138.7,301.1 140.3,301.9 142,297 143.6,292.2 145.7,294.6 147.6,297.9 149.2,296.2 150.8,288.2 152.8,280.1 154.1,273.6 155.7,268.8 157,274.4 158.9,282.5 160.5,272.8 162.2,268.8 163.4,267.2 164.6,273.6 165.4,259.1 166.2,246.2 167,235 168.3,239.7 169.4,246.2 170.6,262.3 171.8,273.6 173.1,283.3 174.3,293 175.4,297.9 176.7,291.4 178.3,281.7 179.6,279.3 180.7,283.3 181.9,291.4 183.2,294.6 184.8,293.8 186.4,294.6 188,299.5 189.6,298.7 191.2,300.3 192.9,301.9 194.5,302.4 196.1,302.7 197.7,301.1 199.3,297.9 200,296 202,296.8 204.2,293.4 205.9,290.9 207.6,288.3 209.3,291.7 211,294.3 212.2,282.4 213.6,272.2 215,262 215.6,256.9 216.6,264.5 217.8,265.4 218.7,270.5 219.5,280.7 220.7,282.4 221.7,286.6 222.9,289.2 224.1,292.6 225.5,296 226.8,297.7 228,296.8 229.7,296 231.4,295.1 232.6,289.2 234,270.5 234.8,258.6 235.7,250.1 236.5,262 237.4,277.3 238.7,290.9 239.9,293.4 241.6,294.3 243.3,296 245,297.7 246.7,296.8 248.4,297.3 249.6,296 251,301.9 252.7,301.1 254.4,300.2 256.1,301.1 257.8,300.2 259.8,300.2" fill="none" stroke="#111" stroke-width="1.2" stroke-linejoin="round"/>
</g>
<g clip-path="url(#ce)">
<polyline points="379.5,279.5 381.3,280.4 382.7,290 384.4,297.1 386.2,293.5 388,291.8 389.7,290 391.5,291.8 393.2,294.4 395,286.5 396.7,276 398.5,268.1 400.3,277.7 402,288.3 403.8,288.3 405.5,291.8 407.3,297.1 409,302.3 410.8,302.3 412.6,300.6 414.3,297.1 416.1,295.3 417.8,300.6 419.9,298.8 421.7,291.8 423.5,290 425.2,287.4 427,293.5 428.7,295.3 430.5,293.5 432.2,284.8 434,277.7 435.8,261.9 437.2,261.9 438.4,277.7 440.1,284.8 441.9,293.5 443.7,279.5 445.4,256.6 446.7,254 448.1,277.7 449.8,290 451.6,297.1 453.3,290 455.1,287.4 456.8,293.5 458.6,302.3 460.4,305.8 462.1,305.5 463.9,304.1 465.6,301.4 467.4,301.4 469.1,298.8 470.9,298.8 472.7,302.3 474.4,299.7 475.3,297.1 477,286.5 478.8,276 480.5,274.2 482.3,281.2 484.1,290.9 485.8,288.3 487.6,284.8 489.3,288.3 491.1,279.5 492.5,267.2 493.7,256.6 494.6,255.8 496,267.2 497.2,276 498.5,284.8 500.2,287.4 502,285.6 503.7,286.5 505.5,290 507.3,290.9 508.7,281.2 510.1,268.9 511.3,261 512.5,261.9 513.9,267.2 515.3,261 516.6,251.4 517.8,242.6 518.9,238.2 520.1,247.8 521.3,263.7 522.4,279.5 523.6,290 525.4,294.4 527.1,291.8 528.9,291.8 530.6,294.4 532.4,296.2 534.1,295.3 535.9,298.8 537.7,300.6 539.4,297.9 541.2,293.5 542.9,288.3 544.9,282.1 546.7,277.7 548.4,290 550.2,301.4 552,295.3 553.7,290.9 555.8,288.3 557.6,288.3 559.7,289.1 562,292.7 563.7,297.9 565.5,295.3 566.7,291.8 568.1,286.5 569.9,281.2 571.3,276 572.5,275.1 574.3,277.7 576,283 577.8,288.3 579.5,284.8 581.3,281.2 583.1,282.1 584.8,278.6 586.6,279.5 588.3,289.1 590.1,291.8 592.7,295.3 595.4,295.3 598,297.1 600.6,296.2 602.9,291.8 605,293.5 606.8,291.8 608.5,279.5 609.9,272.5" fill="none" stroke="#d32e34" stroke-width="1.4" stroke-dasharray="1.3,1.2"/>
<polyline points="379.5,286.5 380.9,283 382.7,281.6 384.4,280.9 385.7,284.8 387.4,289.1 388.7,291.8 390.4,290.9 392.2,288.3 393.6,277.7 395,267.2 396.2,265.4 397.4,263.7 398.5,256.6 399.7,267.2 401,274.2 402.4,295.3 404.1,295.3 405.9,294.4 407.6,297.1 409.4,300.2 411.1,297.1 412.9,293.5 414.3,291.8 415.5,294.4 417.3,297.1 419.1,300.6 420.8,295.3 422.6,288.3 424.3,287.4 426.1,284.8 427.8,282.1 429.6,288.3 430.8,291.8 432.2,277.7 433.6,249.6 434.9,241.7 436.1,253.1 437.5,268.9 438.9,277.7 440.1,284.8 441.9,288.3 443.1,270.7 444.2,251.4 445.4,247.8 446.7,237.3 447.7,247.8 448.4,268.9 449.5,277.7 450.7,288.3 452.4,293.5 454.2,294.4 456,298.8 457.7,302.3 460,301.9 462.1,301.4 463.9,302.3 465.6,302.3 467.4,298.8 469.1,292.7 470.9,293.5 472.7,299.7 474.4,300.6 477,293.5 478.4,279.5 479.3,267.2 480.5,264.5 481.8,261 482.7,270.7 483.7,276 485.5,276 486.7,279.5 488.5,276 490.2,277.7 491.4,272.5 492.8,269.8 494.3,268.1 495.5,275.1 497.2,277.7 499,284.8 500.8,286.5 502.5,282.1 504.3,282.1 506,287.4 507.8,290.9 509,283 510.1,272.5 511.3,265.4 512.5,263.7 513.9,265.4 515.3,268.9 516.6,264.5 517.5,259.3 518.9,271.6 520.1,283 521.3,291.8 522.7,292.7 524.5,290.9 526.2,284.8 528,289.1 529.8,295.3 531.5,297.1 533.3,293.5 535,294.4 536.8,297.1 538.5,291.8 540.3,289.1 542.6,287.4 544.9,282.1 547,284.8 548.8,292.7 550.5,293.5 553.2,292.7 555.8,293.5 557.6,289.1 559.3,286.5 561.4,288.3 563.7,290.9 565.5,286.5 566.7,279.5 568.1,276.8 569.9,284.8 571.3,283 572.5,267.2 573.7,261 575.1,267.2 576,277.7 577.3,290 578.7,295.3 580.1,286.5 581.3,277.7 582.5,275.1 583.9,279.5 585.3,277.7 586.6,273.3 587.8,277.7 589.2,290 590.6,295.3 592.4,296.2 594.5,294.4 596.2,297.1 598.9,297.9 600.6,295.3 602.4,288.3 604.1,281.2 605.4,283 606.4,294.4 607.7,297.1 608.9,289.1 609.9,284.8" fill="none" stroke="#111" stroke-width="1.2" stroke-linejoin="round"/>
</g>
<g clip-path="url(#cg)">
<polyline points="32.9,462.6 34.1,453.1 35.8,450.2 37.6,452.4 39,454.6 40.5,453.1 42.4,452.4 44.5,451 46.3,452.4 47.7,451.7 49.2,445.1 51.1,437.2 53,434.2 54,440.1 55.4,445.1 56.9,442.2 58.3,440.8 59.8,439.3 60.8,444.4 62.3,453.1 64.2,454.6 66,453.1 67.8,456 69.5,459 71.4,460.4 73.6,461.1 75.8,461.1 78,461.9 80.1,461.1 82.3,460.1 84.5,459.7 86.7,459.7 88.9,460.1 91,460.1 92.8,459.7 94,453.1 95.4,447.3 96.9,443 98.3,437.2 99.8,436.4 101.2,436.4 102.7,435.7 104.1,429.9 105.6,426.3 107,420.4 108.2,415.3 108.9,413.2 109.9,421.2 111.1,432.8 112.1,441.5 113.6,445.1 115,446.6 116.5,448.8 117.9,451.7 119.4,453.9 120.8,455.3 123,456.8 125.2,459.7 126.7,461.1 128.1,459 130.8,459.7 133,459 135.2,458.2 137.4,459.7 139.5,461.1 141.7,461.1 143.9,459.7 146.1,459 148.3,457.5 150.4,453.1 151.9,445.1 152.9,434.2 154.1,420.4 155.1,415.3 156.3,420.4 157.3,425.5 158.7,422.6 160.6,419 162.5,418.3 164.2,414.6 165.7,424.1 167.2,435.7 168.6,445.1 170.8,445.9 173,448 175.1,450.2 177.3,453.1 179.5,456 181.7,459 183.9,461.1 186,460.4 188.2,459.7 190.4,459 192.6,459 194.8,459 197,459.7 199.1,459 201.3,459 203.5,459.7 205.7,459 207.8,456 210,453.9 212.2,452.4 214,448 215.4,441.5 216.6,431.3 218,424.8 219.2,424.1 220.6,424.8 222.1,424.1 223.4,429.9 224.8,435.7 225.8,443 227.3,447.4 228.7,451 230.6,454.6 232.1,457.5 233.5,458.7 235.7,459.7 237.9,459 240.1,458.3 242.3,459 244.5,458.3 246.6,459 248.8,458.3 251,459 253.2,459 255.4,458.7 257.5,458.3 259.7,459 261.9,459.7 263.1,461.9" fill="none" stroke="#d32e34" stroke-width="1.4" stroke-dasharray="1.3,1.2"/>
<polyline points="32.9,457.5 33.6,453.1 35.1,456 36.5,453.9 38,452.4 39.4,450.2 40.9,449.5 42.4,447.3 43.8,446.6 45.3,445.9 46.7,445.1 47.7,444.4 48.9,438.6 50.1,435.4 51.1,436.4 52.1,440.1 53.3,444.4 54.7,443 56.2,441.5 57.6,442.2 59.1,443 60.5,445.1 62,451 63.4,453.9 65.6,454.6 67.8,456 70,457.2 72.2,457.5 74.3,457.8 76.5,457.2 78.7,456.8 80.9,456.3 83.1,457.2 85.2,457.2 87.4,457.2 89.6,456.8 91.8,456 94,452.4 95.7,448 97.6,443 99.5,437.9 101.2,431.3 102.7,429.2 103.8,424.8 104.9,421.2 105.9,420.4 107,424.1 108.1,429.9 109.2,437.2 110.7,441.5 112.1,445.9 113.6,449.5 115,448.8 116.5,447.6 117.9,449.5 119.4,453.1 120.8,455.3 122.7,456 124.5,454.3 125.9,454.6 127.7,456 130.1,458.2 132.3,455.3 134.4,452.4 136.6,454.6 138.8,456.8 141,455.8 143.2,454.6 145.3,453.9 147.5,453.1 149.7,451.7 151.5,448.8 152.6,441.5 153.6,429.9 154.8,423.3 156.3,424.8 157.3,426.3 158.4,431.3 159.6,429.9 160.6,435.7 161.6,438.6 162.5,437.9 163.5,441.5 165,443 166.4,446.6 168.3,448.8 170.1,449.5 171.5,449.5 173,451 175.1,453.1 177.3,454.6 179.5,456 181.7,453.9 183.9,455.3 186,459 188.2,459 190.4,456.8 192.6,454.6 194.5,456 196.2,458.2 198.4,459 200.6,457.5 202.8,456.8 204.7,454.6 206.4,451 208.1,449.5 210,449.5 211.9,448 213.7,444.4 215.1,438.6 216.3,431.3 216.8,427.7 218.3,428.5 219.7,432.1 221.2,435 222.3,434.3 223.4,437.2 224.8,444.5 226.3,450.3 228.5,452.5 230.6,454.6 232.8,456.8 235,457.5 237.2,456.1 238.6,454.6 240.1,455.4 241.5,456.8 243,454.6 245.2,455.4 247.4,454.6 249.5,453.6 251.7,456.1 253.9,457.5 256.1,458.3 258.3,457.5 260.2,454.6 261.6,453.9 262.6,456.1" fill="none" stroke="#111" stroke-width="1.2" stroke-linejoin="round"/>
</g>
<g clip-path="url(#ci)">
<polyline points="379.2,452.5 380.1,443.7 381.6,438.5 383.1,445.1 384.6,449.6 386,451 387.1,445.9 388.5,440.7 390,439.2 391.5,442.2 393,445.9 394.4,447.4 395.9,449.6 397.4,452.5 398.9,454.7 400.3,451 401.8,448.1 403.3,447.4 404.8,450.3 406.2,452.5 407.7,454 409.2,454.7 410.7,453.3 412.1,451 413.6,448.1 415.1,445.9 416.6,451 418,454 419.1,456.9 420.2,449.6 421.4,442.2 422.9,439.2 424.4,441.5 425.9,448.1 426.9,451 428.4,444.4 429.8,439.2 431.3,441.5 432.8,448.1 434.3,445.9 435.7,443.7 437.2,448.1 438.7,452.5 440.2,454.7 441.6,456.9 443.1,454 444.6,451 446.1,450.3 447.5,453.3 449,455.5 450.5,456.2 452,454 453.4,454.7 454.9,456.9 456.4,458.4 457.9,458.4 459.3,459.2 460.8,459.2 462.3,459.9 463.8,458.4 465.2,456.9 466.7,455.5 468.2,455.5 469.7,456.2 471.1,456.9 472.6,456.2 473.8,457.7 475.6,454.9 477.5,453 479.4,451.1 481.3,447.4 483.2,444.5 485,438 486.9,431.4 488.4,435.2 489.7,438.9 491.6,431.4 493.5,424.2 495,427.6 496.7,437 498.2,442.7 500.1,432.3 502,435.2 503.8,441.7 505.7,447.4 507.6,442.7 509.1,430.5 510.4,418.2 511.4,408.8 512.9,418.2 514.2,419.2 515.5,412.6 517,407 517.9,403.2 519.2,412.6 520.4,429.5 521.7,444.5 523.6,445.5 525.5,444.5 527.3,443.6 529.2,444.5 531.1,448.3 533,451.1 534.8,452.1 536.7,453 538.6,451.1 540,449.6 541.5,445.9 543,439.3 544.4,434.1 545.6,434.1 546.6,439.3 548.1,446.7 549.6,453.3 551.1,448.9 552.5,445.9 554,442.2 555.5,437.1 557,433.4 558.5,432.6 559.9,435.6 561.4,442.2 562.9,446.7 564.4,445.2 565.8,443 567.3,440.8 568.8,437.8 570.3,436.3 571.3,434.9 572.5,440 573.7,446.7 574.7,449.6 576.2,448.1 577.6,449.6 579.1,448.9 580.6,448.1 582.1,445.9 583.1,439.3 584,431.9 585,424.5 585.8,419.4 586.9,428.2 588,430.4 589,439.3 590.2,445.9 591.7,448.9 593.1,450.4 594.6,451.8 596.1,454 597.6,457 599,458.5 600.5,458.8 602,458.5 603.5,457.7 604.9,454 606.4,446.7 607.9,440.8 609.1,431.9" fill="none" stroke="#d32e34" stroke-width="1.4" stroke-dasharray="1.3,1.2"/>
<polyline points="379.2,442.2 380.4,437 382.2,434.8 383.4,439.2 384.6,445.9 386,440 387.5,434.1 388.5,429.2 389.6,434.8 390.7,435.6 391.9,434.1 393,439.2 394.4,442.2 395.9,445.9 397.4,448.8 398.9,451 400.3,449.6 401.8,449.6 403.3,448.4 404.8,449.6 406.2,448.8 407.7,448.1 409.2,447.4 410.7,448.8 412.1,450.3 413.6,449.6 415.1,448.1 416.6,449.6 418,451 419.5,447.4 421,440.7 422.5,439.2 423.5,438.5 424.7,440.7 426.1,442.2 427.6,445.1 429.1,447.4 430.6,445.1 432,443.7 433.5,442.2 435,442.9 436.5,445.9 437.9,449.6 439.4,451 440.9,451.8 442.4,451 443.8,447.4 445.3,443.7 446.5,442.9 447.5,445.9 449,449.6 450.5,450.3 452,448.8 453.4,450.3 454.9,453.3 456.4,454.7 457.9,455.5 460.1,455.8 462.3,455.2 464.5,455.8 466.7,455.2 468.9,455.2 471.1,455.8 472.6,455.5 474.1,453.3 475.6,449.2 477.9,445.5 479.8,449.2 481.7,451.1 483.5,447.4 485.4,440.8 487.3,439.8 488.8,445.5 490.7,444.5 492.6,437 494.1,429.5 495.4,433.3 496.7,439.8 498.2,446.4 499.5,450.2 501,444.5 502.9,440.8 504.2,442.7 505.7,446.4 507.2,445.5 508.5,437 509.8,425.8 511.4,414.5 512.9,415.4 514.2,423.5 515.1,412.6 516.1,397.6 517.9,385.3 518.9,391.9 519.8,408.8 520.8,429.5 522.1,447.4 523.6,445.5 525.5,441.7 527.3,439.8 529.2,441.7 531.1,445.5 533,443.6 534.8,446.4 536.7,449.2 538.6,447.4 540.5,444.5 542.2,445.9 544.1,445.2 545.9,445.9 547.7,446.7 549.2,445.5 551.1,445.9 553,447.4 554.8,445.9 556.5,445.2 558.5,445.9 560.4,445.9 562.1,447.4 563.6,448.1 565.1,445.9 566.6,443.7 568,440.8 569.5,434.9 570.7,431.2 571.7,432.6 572.8,434.9 573.9,436.3 575.4,439.3 576.9,442.2 578.7,444.4 580.1,443 581.3,439.3 582.8,437.1 584.3,437.8 585.8,440 587.2,443.7 588.7,448.1 590.2,451.8 591.7,450.8 593.1,450.4 594.6,451.1 596.1,451.8 597.6,452.6 599,452.9 600.8,453.3 602,451.1 603.5,448.1 604.9,446.7 606.4,447.4 607.9,448.9 609.4,446.7" fill="none" stroke="#111" stroke-width="1.2" stroke-linejoin="round"/>
</g>
<g clip-path="url(#cd)">
<polyline points="268.6,175 268.4,190 268.2,208.1 268.2,215.2 269.1,220.2 272.1,224.2 275.1,227.3 278.1,230.3 279.7,233.3 277.1,237.4 276.1,242.4 276.1,246.1 276.1,251.1 275.1,255.2 278.1,259.2 282.2,262.2 286.2,266.3 285.7,271.3 288.2,275.4 291.3,278.4 294.3,281.6 297,285.6 300,290 299.2,293.3 296.7,297.5 292.5,300.8 288.3,303.75 284.2,306.7 280,309.2" fill="none" stroke="#d32e34" stroke-width="1.3" stroke-dasharray="1.3,1.3"/>
<polyline points="268,158 268.2,180 268,200 268.2,210.1 268,220.2 268.5,225.3 270.1,229.3 271.6,233.3 271.1,238.4 271.6,243.4 272.6,249 273.6,256.2 272.1,261.2 274.1,265.3 276.1,269.3 278.1,273.3 279.7,275.9 284.2,278.4 289.3,281.4 293.3,284.2 299.2,287.1 306.7,289.2 315,291.3 321.7,293.3 327.5,295.4 330.4,297.9 330,299.6 326.7,300.2 317.5,301.7 309.2,303.3 300.8,305 292.5,306.7 284.2,307.9 276,309 267.3,309.6" fill="none" stroke="#000" stroke-width="1.7" stroke-linejoin="round"/>
</g>
<g clip-path="url(#cf)">
<polyline points="614.2,205 614.2,222.3 615.5,228.3 616.7,235.6 617.9,244.1 618.2,251.4 618.5,258.6 620.3,262.9 621.5,265.9 623.3,270.8 628.2,274.4 634.4,276.4 641.4,279.6 646.7,283 651.9,287.4 659,290 663.4,293.5 664.2,296.2 659,299.7 651.9,303.2 641.4,307.6 632.6,310.3" fill="none" stroke="#d32e34" stroke-width="1.3" stroke-dasharray="1.3,1.3"/>
<polyline points="614.6,158 614.6,200 614.6,215 615.1,222.3 616.1,227.1 617,233.2 616.1,236.8 616.7,241.7 617.9,246.5 618.7,251.4 619.1,256.2 617.3,259.8 616.7,263.5 618.5,267.1 622.1,270.2 627,272 632.9,276.3 638,279.7 644,282 650,284.1 655.5,285.8 662.5,288.3 667.8,290.9 670.4,294.4 670.4,298.8 660.7,302.3 643.1,305.8 625.6,309 615,310.3" fill="none" stroke="#000" stroke-width="1.7" stroke-linejoin="round"/>
</g>
<g clip-path="url(#ch)">
<polyline points="268.3,388 270.1,395 270.6,401.1 270.6,407.1 269.1,411.2 270.1,415.2 272.1,419.2 274.1,422.3 276.6,425.3 278.6,428.3 278.6,432.4 278.1,435.4 281.2,438.4 285.2,441 290.3,443.5 295,446.5 300,449 310,451.5 320,453 330,455 340,456.5 350,457.8 357,458.5 361,459.5 360,461 350,462.5 340,463.2 330,464 320,464.5 300,465 291.2,465.3" fill="none" stroke="#d32e34" stroke-width="1.3" stroke-dasharray="1.3,1.3"/>
<polyline points="268.2,312 268,350 267.9,385 268,395 267.8,405.1 269.6,409.1 271.6,413.2 271.1,417.2 271.6,421.3 272.6,425.3 274.1,428.3 274.6,430.4 277.1,433.4 280.2,435.9 285.2,438.4 290.3,441 295.3,444 300,446 310,448 320,449.5 330,451 340,452 350,453.5 360,455 366,455.8 360,456.5 350,458 340,459.5 330,461 320,462.2 310,463.5 300,464.5 284.3,465.3 268.9,465.6" fill="none" stroke="#000" stroke-width="1.7" stroke-linejoin="round"/>
</g>
<g clip-path="url(#cj)">
<polyline points="614.8,365 614.8,387.3 616.1,395.8 616.1,404.2 615.5,407.9 617.9,413.9 621.5,417.6 624.5,421.2 625.8,426.1 625.2,429.7 628.2,433.3 634.2,437 641.5,439.6 649,443.1 658,444.9 667.1,447.1 674.3,449.4 677.9,452.1 679.3,453.9 676.1,456.6 667.1,458.9 658,461.1 649,462.9 640,464.7 633.8,465.6" fill="none" stroke="#d32e34" stroke-width="1.3" stroke-dasharray="1.3,1.3"/>
<polyline points="614.8,313 614.8,350 614.8,380 615.1,392.1 615.5,404.2 616.7,411.5 617.3,416.4 617.9,421.2 620.9,426.1 624.5,429.7 628.2,433.3 634.2,435.8 641.5,437.6 649,440.4 658,442.2 667.1,444 676.1,445.8 685.1,447.6 691.4,449.4 696.4,451.7 685.1,454.4 676.1,456.2 667.1,457.5 658,458.9 649,460.2 640,461.1 628,462.7 618.3,464.3 614.9,465.6" fill="none" stroke="#000" stroke-width="1.7" stroke-linejoin="round"/>
</g>
<path d="M77.02 154.4v-3.6M77.02 2.3v3.6M123.14 154.4v-3.6M123.14 2.3v3.6M169.26 154.4v-3.6M169.26 2.3v3.6M215.38 154.4v-3.6M215.38 2.3v3.6M30.9 136.71h3.6M261.5 136.71h-3.6M30.9 101.34h3.6M261.5 101.34h-3.6M30.9 65.97h3.6M261.5 65.97h-3.6M30.9 30.6h3.6M261.5 30.6h-3.6" stroke="#444" stroke-width="1" fill="none"/>
<path d="M40.12 154.4v-2M40.12 2.3v2M49.35 154.4v-2M49.35 2.3v2M58.57 154.4v-2M58.57 2.3v2M67.8 154.4v-2M67.8 2.3v2M86.24 154.4v-2M86.24 2.3v2M95.47 154.4v-2M95.47 2.3v2M104.69 154.4v-2M104.69 2.3v2M113.92 154.4v-2M113.92 2.3v2M132.36 154.4v-2M132.36 2.3v2M141.59 154.4v-2M141.59 2.3v2M150.81 154.4v-2M150.81 2.3v2M160.04 154.4v-2M160.04 2.3v2M178.48 154.4v-2M178.48 2.3v2M187.71 154.4v-2M187.71 2.3v2M196.93 154.4v-2M196.93 2.3v2M206.16 154.4v-2M206.16 2.3v2M224.6 154.4v-2M224.6 2.3v2M233.83 154.4v-2M233.83 2.3v2M243.05 154.4v-2M243.05 2.3v2M252.28 154.4v-2M252.28 2.3v2M30.9 150.86h2M261.5 150.86h-2M30.9 143.79h2M261.5 143.79h-2M30.9 129.64h2M261.5 129.64h-2M30.9 122.57h2M261.5 122.57h-2M30.9 115.49h2M261.5 115.49h-2M30.9 108.42h2M261.5 108.42h-2M30.9 94.27h2M261.5 94.27h-2M30.9 87.19h2M261.5 87.19h-2M30.9 80.12h2M261.5 80.12h-2M30.9 73.04h2M261.5 73.04h-2M30.9 58.9h2M261.5 58.9h-2M30.9 51.82h2M261.5 51.82h-2M30.9 44.75h2M261.5 44.75h-2M30.9 37.67h2M261.5 37.67h-2M30.9 23.52h2M261.5 23.52h-2M30.9 16.45h2M261.5 16.45h-2M30.9 9.37h2M261.5 9.37h-2" stroke="#777" stroke-width="0.8" fill="none"/>
<rect x="30.9" y="2.3" width="230.6" height="152.1" fill="none" stroke="#444" stroke-width="1.1"/>
<path d="M423.56 154.4v-3.6M423.56 2.3v3.6M469.62 154.4v-3.6M469.62 2.3v3.6M515.68 154.4v-3.6M515.68 2.3v3.6M561.74 154.4v-3.6M561.74 2.3v3.6M377.5 136.71h3.6M607.8 136.71h-3.6M377.5 101.34h3.6M607.8 101.34h-3.6M377.5 65.97h3.6M607.8 65.97h-3.6M377.5 30.6h3.6M607.8 30.6h-3.6" stroke="#444" stroke-width="1" fill="none"/>
<path d="M386.71 154.4v-2M386.71 2.3v2M395.92 154.4v-2M395.92 2.3v2M405.14 154.4v-2M405.14 2.3v2M414.35 154.4v-2M414.35 2.3v2M432.77 154.4v-2M432.77 2.3v2M441.98 154.4v-2M441.98 2.3v2M451.2 154.4v-2M451.2 2.3v2M460.41 154.4v-2M460.41 2.3v2M478.83 154.4v-2M478.83 2.3v2M488.04 154.4v-2M488.04 2.3v2M497.26 154.4v-2M497.26 2.3v2M506.47 154.4v-2M506.47 2.3v2M524.89 154.4v-2M524.89 2.3v2M534.1 154.4v-2M534.1 2.3v2M543.32 154.4v-2M543.32 2.3v2M552.53 154.4v-2M552.53 2.3v2M570.95 154.4v-2M570.95 2.3v2M580.16 154.4v-2M580.16 2.3v2M589.38 154.4v-2M589.38 2.3v2M598.59 154.4v-2M598.59 2.3v2M377.5 150.86h2M607.8 150.86h-2M377.5 143.79h2M607.8 143.79h-2M377.5 129.64h2M607.8 129.64h-2M377.5 122.57h2M607.8 122.57h-2M377.5 115.49h2M607.8 115.49h-2M377.5 108.42h2M607.8 108.42h-2M377.5 94.27h2M607.8 94.27h-2M377.5 87.19h2M607.8 87.19h-2M377.5 80.12h2M607.8 80.12h-2M377.5 73.04h2M607.8 73.04h-2M377.5 58.9h2M607.8 58.9h-2M377.5 51.82h2M607.8 51.82h-2M377.5 44.75h2M607.8 44.75h-2M377.5 37.67h2M607.8 37.67h-2M377.5 23.52h2M607.8 23.52h-2M377.5 16.45h2M607.8 16.45h-2M377.5 9.37h2M607.8 9.37h-2" stroke="#777" stroke-width="0.8" fill="none"/>
<rect x="377.5" y="2.3" width="230.3" height="152.1" fill="none" stroke="#444" stroke-width="1.1"/>
<path d="M77.16 309.4v-3.6M77.16 157.3v3.6M123.02 309.4v-3.6M123.02 157.3v3.6M168.88 309.4v-3.6M168.88 157.3v3.6M214.74 309.4v-3.6M214.74 157.3v3.6M31.3 281.75h3.6M260.6 281.75h-3.6M31.3 254.09h3.6M260.6 254.09h-3.6M31.3 226.44h3.6M260.6 226.44h-3.6M31.3 198.78h3.6M260.6 198.78h-3.6M31.3 171.13h3.6M260.6 171.13h-3.6" stroke="#444" stroke-width="1" fill="none"/>
<path d="M40.47 309.4v-2M40.47 157.3v2M49.64 309.4v-2M49.64 157.3v2M58.82 309.4v-2M58.82 157.3v2M67.99 309.4v-2M67.99 157.3v2M86.33 309.4v-2M86.33 157.3v2M95.5 309.4v-2M95.5 157.3v2M104.68 309.4v-2M104.68 157.3v2M113.85 309.4v-2M113.85 157.3v2M132.19 309.4v-2M132.19 157.3v2M141.36 309.4v-2M141.36 157.3v2M150.54 309.4v-2M150.54 157.3v2M159.71 309.4v-2M159.71 157.3v2M178.05 309.4v-2M178.05 157.3v2M187.22 309.4v-2M187.22 157.3v2M196.4 309.4v-2M196.4 157.3v2M205.57 309.4v-2M205.57 157.3v2M223.91 309.4v-2M223.91 157.3v2M233.08 309.4v-2M233.08 157.3v2M242.26 309.4v-2M242.26 157.3v2M251.43 309.4v-2M251.43 157.3v2M31.3 302.49h2M260.6 302.49h-2M31.3 295.57h2M260.6 295.57h-2M31.3 288.66h2M260.6 288.66h-2M31.3 274.83h2M260.6 274.83h-2M31.3 267.92h2M260.6 267.92h-2M31.3 261h2M260.6 261h-2M31.3 247.18h2M260.6 247.18h-2M31.3 240.26h2M260.6 240.26h-2M31.3 233.35h2M260.6 233.35h-2M31.3 219.52h2M260.6 219.52h-2M31.3 212.61h2M260.6 212.61h-2M31.3 205.7h2M260.6 205.7h-2M31.3 191.87h2M260.6 191.87h-2M31.3 184.95h2M260.6 184.95h-2M31.3 178.04h2M260.6 178.04h-2M31.3 164.21h2M260.6 164.21h-2" stroke="#777" stroke-width="0.8" fill="none"/>
<rect x="31.3" y="157.3" width="229.3" height="152.1" fill="none" stroke="#444" stroke-width="1.1"/>
<path d="M425.6 310.3v-3.6M425.6 157.1v3.6M471.8 310.3v-3.6M471.8 157.1v3.6M518 310.3v-3.6M518 157.1v3.6M564.2 310.3v-3.6M564.2 157.1v3.6M379.4 282.45h3.6M610.4 282.45h-3.6M379.4 254.59h3.6M610.4 254.59h-3.6M379.4 226.74h3.6M610.4 226.74h-3.6M379.4 198.88h3.6M610.4 198.88h-3.6M379.4 171.03h3.6M610.4 171.03h-3.6" stroke="#444" stroke-width="1" fill="none"/>
<path d="M388.64 310.3v-2M388.64 157.1v2M397.88 310.3v-2M397.88 157.1v2M407.12 310.3v-2M407.12 157.1v2M416.36 310.3v-2M416.36 157.1v2M434.84 310.3v-2M434.84 157.1v2M444.08 310.3v-2M444.08 157.1v2M453.32 310.3v-2M453.32 157.1v2M462.56 310.3v-2M462.56 157.1v2M481.04 310.3v-2M481.04 157.1v2M490.28 310.3v-2M490.28 157.1v2M499.52 310.3v-2M499.52 157.1v2M508.76 310.3v-2M508.76 157.1v2M527.24 310.3v-2M527.24 157.1v2M536.48 310.3v-2M536.48 157.1v2M545.72 310.3v-2M545.72 157.1v2M554.96 310.3v-2M554.96 157.1v2M573.44 310.3v-2M573.44 157.1v2M582.68 310.3v-2M582.68 157.1v2M591.92 310.3v-2M591.92 157.1v2M601.16 310.3v-2M601.16 157.1v2M379.4 303.34h2M610.4 303.34h-2M379.4 296.37h2M610.4 296.37h-2M379.4 289.41h2M610.4 289.41h-2M379.4 275.48h2M610.4 275.48h-2M379.4 268.52h2M610.4 268.52h-2M379.4 261.55h2M610.4 261.55h-2M379.4 247.63h2M610.4 247.63h-2M379.4 240.66h2M610.4 240.66h-2M379.4 233.7h2M610.4 233.7h-2M379.4 219.77h2M610.4 219.77h-2M379.4 212.81h2M610.4 212.81h-2M379.4 205.85h2M610.4 205.85h-2M379.4 191.92h2M610.4 191.92h-2M379.4 184.95h2M610.4 184.95h-2M379.4 177.99h2M610.4 177.99h-2M379.4 164.06h2M610.4 164.06h-2" stroke="#777" stroke-width="0.8" fill="none"/>
<rect x="379.4" y="157.1" width="231" height="153.2" fill="none" stroke="#444" stroke-width="1.1"/>
<path d="M79.02 464.5v-3.6M79.02 311.3v3.6M125.14 464.5v-3.6M125.14 311.3v3.6M171.26 464.5v-3.6M171.26 311.3v3.6M217.38 464.5v-3.6M217.38 311.3v3.6M32.9 436.65h3.6M263.5 436.65h-3.6M32.9 408.79h3.6M263.5 408.79h-3.6M32.9 380.94h3.6M263.5 380.94h-3.6M32.9 353.08h3.6M263.5 353.08h-3.6M32.9 325.23h3.6M263.5 325.23h-3.6" stroke="#444" stroke-width="1" fill="none"/>
<path d="M42.12 464.5v-2M42.12 311.3v2M51.35 464.5v-2M51.35 311.3v2M60.57 464.5v-2M60.57 311.3v2M69.8 464.5v-2M69.8 311.3v2M88.24 464.5v-2M88.24 311.3v2M97.47 464.5v-2M97.47 311.3v2M106.69 464.5v-2M106.69 311.3v2M115.92 464.5v-2M115.92 311.3v2M134.36 464.5v-2M134.36 311.3v2M143.59 464.5v-2M143.59 311.3v2M152.81 464.5v-2M152.81 311.3v2M162.04 464.5v-2M162.04 311.3v2M180.48 464.5v-2M180.48 311.3v2M189.71 464.5v-2M189.71 311.3v2M198.93 464.5v-2M198.93 311.3v2M208.16 464.5v-2M208.16 311.3v2M226.6 464.5v-2M226.6 311.3v2M235.83 464.5v-2M235.83 311.3v2M245.05 464.5v-2M245.05 311.3v2M254.28 464.5v-2M254.28 311.3v2M32.9 457.54h2M263.5 457.54h-2M32.9 450.57h2M263.5 450.57h-2M32.9 443.61h2M263.5 443.61h-2M32.9 429.68h2M263.5 429.68h-2M32.9 422.72h2M263.5 422.72h-2M32.9 415.75h2M263.5 415.75h-2M32.9 401.83h2M263.5 401.83h-2M32.9 394.86h2M263.5 394.86h-2M32.9 387.9h2M263.5 387.9h-2M32.9 373.97h2M263.5 373.97h-2M32.9 367.01h2M263.5 367.01h-2M32.9 360.05h2M263.5 360.05h-2M32.9 346.12h2M263.5 346.12h-2M32.9 339.15h2M263.5 339.15h-2M32.9 332.19h2M263.5 332.19h-2M32.9 318.26h2M263.5 318.26h-2" stroke="#777" stroke-width="0.8" fill="none"/>
<rect x="32.9" y="311.3" width="230.6" height="153.2" fill="none" stroke="#444" stroke-width="1.1"/>
<path d="M425.42 464.3v-3.6M425.42 312.3v3.6M471.44 464.3v-3.6M471.44 312.3v3.6M517.46 464.3v-3.6M517.46 312.3v3.6M563.48 464.3v-3.6M563.48 312.3v3.6M379.4 436.66h3.6M609.5 436.66h-3.6M379.4 409.03h3.6M609.5 409.03h-3.6M379.4 381.39h3.6M609.5 381.39h-3.6M379.4 353.75h3.6M609.5 353.75h-3.6M379.4 326.12h3.6M609.5 326.12h-3.6" stroke="#444" stroke-width="1" fill="none"/>
<path d="M388.6 464.3v-2M388.6 312.3v2M397.81 464.3v-2M397.81 312.3v2M407.01 464.3v-2M407.01 312.3v2M416.22 464.3v-2M416.22 312.3v2M434.62 464.3v-2M434.62 312.3v2M443.83 464.3v-2M443.83 312.3v2M453.03 464.3v-2M453.03 312.3v2M462.24 464.3v-2M462.24 312.3v2M480.64 464.3v-2M480.64 312.3v2M489.85 464.3v-2M489.85 312.3v2M499.05 464.3v-2M499.05 312.3v2M508.26 464.3v-2M508.26 312.3v2M526.66 464.3v-2M526.66 312.3v2M535.87 464.3v-2M535.87 312.3v2M545.07 464.3v-2M545.07 312.3v2M554.28 464.3v-2M554.28 312.3v2M572.68 464.3v-2M572.68 312.3v2M581.89 464.3v-2M581.89 312.3v2M591.09 464.3v-2M591.09 312.3v2M600.3 464.3v-2M600.3 312.3v2M379.4 457.39h2M609.5 457.39h-2M379.4 450.48h2M609.5 450.48h-2M379.4 443.57h2M609.5 443.57h-2M379.4 429.75h2M609.5 429.75h-2M379.4 422.85h2M609.5 422.85h-2M379.4 415.94h2M609.5 415.94h-2M379.4 402.12h2M609.5 402.12h-2M379.4 395.21h2M609.5 395.21h-2M379.4 388.3h2M609.5 388.3h-2M379.4 374.48h2M609.5 374.48h-2M379.4 367.57h2M609.5 367.57h-2M379.4 360.66h2M609.5 360.66h-2M379.4 346.85h2M609.5 346.85h-2M379.4 339.94h2M609.5 339.94h-2M379.4 333.03h2M609.5 333.03h-2M379.4 319.21h2M609.5 319.21h-2" stroke="#777" stroke-width="0.8" fill="none"/>
<rect x="379.4" y="312.3" width="230.1" height="152" fill="none" stroke="#444" stroke-width="1.1"/>
<path d="M289.88 310v-3.6M289.88 157.3v3.6M312.86 310v-3.6M312.86 157.3v3.6M335.83 310v-3.6M335.83 157.3v3.6M358.81 310v-3.6M358.81 157.3v3.6M266.9 282.24h3.6M370.3 282.24h-3.6M266.9 254.47h3.6M370.3 254.47h-3.6M266.9 226.71h3.6M370.3 226.71h-3.6M266.9 198.95h3.6M370.3 198.95h-3.6M266.9 171.18h3.6M370.3 171.18h-3.6" stroke="#444" stroke-width="1" fill="none"/>
<path d="M272.64 310v-2M272.64 157.3v2M278.39 310v-2M278.39 157.3v2M284.13 310v-2M284.13 157.3v2M295.62 310v-2M295.62 157.3v2M301.37 310v-2M301.37 157.3v2M307.11 310v-2M307.11 157.3v2M318.6 310v-2M318.6 157.3v2M324.34 310v-2M324.34 157.3v2M330.09 310v-2M330.09 157.3v2M341.58 310v-2M341.58 157.3v2M347.32 310v-2M347.32 157.3v2M353.07 310v-2M353.07 157.3v2M364.56 310v-2M364.56 157.3v2M266.9 303.06h2M370.3 303.06h-2M266.9 296.12h2M370.3 296.12h-2M266.9 289.18h2M370.3 289.18h-2M266.9 275.3h2M370.3 275.3h-2M266.9 268.35h2M370.3 268.35h-2M266.9 261.41h2M370.3 261.41h-2M266.9 247.53h2M370.3 247.53h-2M266.9 240.59h2M370.3 240.59h-2M266.9 233.65h2M370.3 233.65h-2M266.9 219.77h2M370.3 219.77h-2M266.9 212.83h2M370.3 212.83h-2M266.9 205.89h2M370.3 205.89h-2M266.9 192h2M370.3 192h-2M266.9 185.06h2M370.3 185.06h-2M266.9 178.12h2M370.3 178.12h-2M266.9 164.24h2M370.3 164.24h-2" stroke="#777" stroke-width="0.8" fill="none"/>
<rect x="266.9" y="157.3" width="103.4" height="152.7" fill="none" stroke="#444" stroke-width="1.1"/>
<path d="M636.47 310.1v-3.6M636.47 157v3.6M659.53 310.1v-3.6M659.53 157v3.6M682.6 310.1v-3.6M682.6 157v3.6M705.67 310.1v-3.6M705.67 157v3.6M613.4 282.26h3.6M717.2 282.26h-3.6M613.4 254.43h3.6M717.2 254.43h-3.6M613.4 226.59h3.6M717.2 226.59h-3.6M613.4 198.75h3.6M717.2 198.75h-3.6M613.4 170.92h3.6M717.2 170.92h-3.6" stroke="#444" stroke-width="1" fill="none"/>
<path d="M619.17 310.1v-2M619.17 157v2M624.93 310.1v-2M624.93 157v2M630.7 310.1v-2M630.7 157v2M642.23 310.1v-2M642.23 157v2M648 310.1v-2M648 157v2M653.77 310.1v-2M653.77 157v2M665.3 310.1v-2M665.3 157v2M671.07 310.1v-2M671.07 157v2M676.83 310.1v-2M676.83 157v2M688.37 310.1v-2M688.37 157v2M694.13 310.1v-2M694.13 157v2M699.9 310.1v-2M699.9 157v2M711.43 310.1v-2M711.43 157v2M613.4 303.14h2M717.2 303.14h-2M613.4 296.18h2M717.2 296.18h-2M613.4 289.22h2M717.2 289.22h-2M613.4 275.3h2M717.2 275.3h-2M613.4 268.35h2M717.2 268.35h-2M613.4 261.39h2M717.2 261.39h-2M613.4 247.47h2M717.2 247.47h-2M613.4 240.51h2M717.2 240.51h-2M613.4 233.55h2M717.2 233.55h-2M613.4 219.63h2M717.2 219.63h-2M613.4 212.67h2M717.2 212.67h-2M613.4 205.71h2M717.2 205.71h-2M613.4 191.8h2M717.2 191.8h-2M613.4 184.84h2M717.2 184.84h-2M613.4 177.88h2M717.2 177.88h-2M613.4 163.96h2M717.2 163.96h-2" stroke="#777" stroke-width="0.8" fill="none"/>
<rect x="613.4" y="157" width="103.8" height="153.1" fill="none" stroke="#444" stroke-width="1.1"/>
<path d="M290.38 465.5v-3.6M290.38 311.3v3.6M313.56 465.5v-3.6M313.56 311.3v3.6M336.73 465.5v-3.6M336.73 311.3v3.6M359.91 465.5v-3.6M359.91 311.3v3.6M267.2 437.46h3.6M371.5 437.46h-3.6M267.2 409.43h3.6M371.5 409.43h-3.6M267.2 381.39h3.6M371.5 381.39h-3.6M267.2 353.35h3.6M371.5 353.35h-3.6M267.2 325.32h3.6M371.5 325.32h-3.6" stroke="#444" stroke-width="1" fill="none"/>
<path d="M272.99 465.5v-2M272.99 311.3v2M278.79 465.5v-2M278.79 311.3v2M284.58 465.5v-2M284.58 311.3v2M296.17 465.5v-2M296.17 311.3v2M301.97 465.5v-2M301.97 311.3v2M307.76 465.5v-2M307.76 311.3v2M319.35 465.5v-2M319.35 311.3v2M325.14 465.5v-2M325.14 311.3v2M330.94 465.5v-2M330.94 311.3v2M342.53 465.5v-2M342.53 311.3v2M348.32 465.5v-2M348.32 311.3v2M354.12 465.5v-2M354.12 311.3v2M365.71 465.5v-2M365.71 311.3v2M267.2 458.49h2M371.5 458.49h-2M267.2 451.48h2M371.5 451.48h-2M267.2 444.47h2M371.5 444.47h-2M267.2 430.45h2M371.5 430.45h-2M267.2 423.45h2M371.5 423.45h-2M267.2 416.44h2M371.5 416.44h-2M267.2 402.42h2M371.5 402.42h-2M267.2 395.41h2M371.5 395.41h-2M267.2 388.4h2M371.5 388.4h-2M267.2 374.38h2M371.5 374.38h-2M267.2 367.37h2M371.5 367.37h-2M267.2 360.36h2M371.5 360.36h-2M267.2 346.35h2M371.5 346.35h-2M267.2 339.34h2M371.5 339.34h-2M267.2 332.33h2M371.5 332.33h-2M267.2 318.31h2M371.5 318.31h-2" stroke="#777" stroke-width="0.8" fill="none"/>
<rect x="267.2" y="311.3" width="104.3" height="154.2" fill="none" stroke="#444" stroke-width="1.1"/>
<path d="M637.19 466v-3.6M637.19 311.9v3.6M660.28 466v-3.6M660.28 311.9v3.6M683.37 466v-3.6M683.37 311.9v3.6M706.46 466v-3.6M706.46 311.9v3.6M614.1 437.98h3.6M718 437.98h-3.6M614.1 409.96h3.6M718 409.96h-3.6M614.1 381.95h3.6M718 381.95h-3.6M614.1 353.93h3.6M718 353.93h-3.6M614.1 325.91h3.6M718 325.91h-3.6" stroke="#444" stroke-width="1" fill="none"/>
<path d="M619.87 466v-2M619.87 311.9v2M625.64 466v-2M625.64 311.9v2M631.42 466v-2M631.42 311.9v2M642.96 466v-2M642.96 311.9v2M648.73 466v-2M648.73 311.9v2M654.51 466v-2M654.51 311.9v2M666.05 466v-2M666.05 311.9v2M671.82 466v-2M671.82 311.9v2M677.59 466v-2M677.59 311.9v2M689.14 466v-2M689.14 311.9v2M694.91 466v-2M694.91 311.9v2M700.68 466v-2M700.68 311.9v2M712.23 466v-2M712.23 311.9v2M614.1 459h2M718 459h-2M614.1 451.99h2M718 451.99h-2M614.1 444.99h2M718 444.99h-2M614.1 430.98h2M718 430.98h-2M614.1 423.97h2M718 423.97h-2M614.1 416.97h2M718 416.97h-2M614.1 402.96h2M718 402.96h-2M614.1 395.95h2M718 395.95h-2M614.1 388.95h2M718 388.95h-2M614.1 374.94h2M718 374.94h-2M614.1 367.94h2M718 367.94h-2M614.1 360.93h2M718 360.93h-2M614.1 346.92h2M718 346.92h-2M614.1 339.92h2M718 339.92h-2M614.1 332.91h2M718 332.91h-2M614.1 318.9h2M718 318.9h-2" stroke="#777" stroke-width="0.8" fill="none"/>
<rect x="614.1" y="311.9" width="103.9" height="154.1" fill="none" stroke="#444" stroke-width="1.1"/>
<line x1="157.5" y1="183.3" x2="224.2" y2="183.3" stroke="#d32e34" stroke-width="1.4" stroke-dasharray="1.7,1.5"/>
<line x1="158" y1="205.3" x2="223.8" y2="205.3" stroke="#111" stroke-width="1.3"/>
<text id="lg1" transform="translate(235.24,188.34) scale(0.9,1)" font-size="16.5" text-anchor="start" fill="#111" style="font-family:'Liberation Serif',serif">&#948;</text>
<text id="lg1v" x="242.28" y="192.2" font-size="9.5" text-anchor="start" fill="#111" style="font-family:'Liberation Serif',serif">v</text>
<path d="M235.9 198.4Q238.45 195.9 239.05 195.2Q239.65 195.9 242.2 198.4" fill="none" stroke="#111" stroke-width="1.0" stroke-linejoin="round" stroke-linecap="round"/>
<text id="lg2" transform="translate(235.64,209.32) scale(0.9,1)" font-size="15.8" text-anchor="start" fill="#111" style="font-family:'Liberation Serif',serif">&#948;</text>
<text id="lg2v" x="242.28" y="213.68" font-size="9.5" text-anchor="start" fill="#111" style="font-family:'Liberation Serif',serif">v</text>
<text id="pla" x="43.06" y="19.4" font-size="12.5" text-anchor="start" fill="#111" style="font-family:'Liberation Serif',serif;font-style:italic">(a)</text>
<text id="plb" x="391.06" y="19.4" font-size="12.5" text-anchor="start" fill="#111" style="font-family:'Liberation Serif',serif;font-style:italic">(b)</text>
<text id="plc" x="43.06" y="172.14" font-size="12.5" text-anchor="start" fill="#111" style="font-family:'Liberation Serif',serif;font-style:italic">(c)</text>
<text id="pld" x="280.44" y="172.14" font-size="12.5" text-anchor="start" fill="#111" style="font-family:'Liberation Serif',serif;font-style:italic">(d)</text>
<text id="ple" x="391.06" y="172.14" font-size="12.5" text-anchor="start" fill="#111" style="font-family:'Liberation Serif',serif;font-style:italic">(e)</text>
<text id="plf" x="625.08" y="172.4" font-size="12.5" text-anchor="start" fill="#111" style="font-family:'Liberation Serif',serif;font-style:italic">(f)</text>
<text id="plg" x="43.1" y="329.64" font-size="12.5" text-anchor="start" fill="#111" style="font-family:'Liberation Serif',serif;font-style:italic">(g)</text>
<text id="plh" x="280.08" y="329.64" font-size="12.5" text-anchor="start" fill="#111" style="font-family:'Liberation Serif',serif;font-style:italic">(h)</text>
<text id="pli" x="390.82" y="328.1" font-size="12.5" text-anchor="start" fill="#111" style="font-family:'Liberation Serif',serif;font-style:italic">(i)</text>
<text id="plj" x="626.14" y="329.64" font-size="12.5" text-anchor="start" fill="#111" style="font-family:'Liberation Serif',serif;font-style:italic">(j)</text>
<text id="ya8" x="28" y="34.2" font-size="9.8" text-anchor="end" fill="#111" style="font-family:'Liberation Serif',serif">8</text>
<text id="ya7" x="28" y="69.6" font-size="9.8" text-anchor="end" fill="#111" style="font-family:'Liberation Serif',serif">7</text>
<text id="ya6" x="28" y="105" font-size="9.8" text-anchor="end" fill="#111" style="font-family:'Liberation Serif',serif">6</text>
<text id="ya5" x="28" y="140.4" font-size="9.8" text-anchor="end" fill="#111" style="font-family:'Liberation Serif',serif">5</text>
<text id="yc2" x="28.3" y="285.15" font-size="9.8" text-anchor="end" fill="#111" style="font-family:'Liberation Serif',serif">0.2</text>
<text id="yc4" x="28.3" y="257.49" font-size="9.8" text-anchor="end" fill="#111" style="font-family:'Liberation Serif',serif">0.4</text>
<text id="yc6" x="28.3" y="229.84" font-size="9.8" text-anchor="end" fill="#111" style="font-family:'Liberation Serif',serif">0.6</text>
<text id="yc8" x="28.3" y="202.18" font-size="9.8" text-anchor="end" fill="#111" style="font-family:'Liberation Serif',serif">0.8</text>
<text id="yc10" x="28.3" y="174.53" font-size="9.8" text-anchor="end" fill="#111" style="font-family:'Liberation Serif',serif">1</text>
<text id="yg2" x="29.9" y="440.05" font-size="9.8" text-anchor="end" fill="#111" style="font-family:'Liberation Serif',serif">0.2</text>
<text id="yg4" x="29.9" y="412.19" font-size="9.8" text-anchor="end" fill="#111" style="font-family:'Liberation Serif',serif">0.4</text>
<text id="yg6" x="29.9" y="384.34" font-size="9.8" text-anchor="end" fill="#111" style="font-family:'Liberation Serif',serif">0.6</text>
<text id="yg8" x="29.9" y="356.48" font-size="9.8" text-anchor="end" fill="#111" style="font-family:'Liberation Serif',serif">0.8</text>
<text id="yg10" x="29.9" y="328.63" font-size="9.8" text-anchor="end" fill="#111" style="font-family:'Liberation Serif',serif">1</text>
<text id="yg0" x="29.6" y="468" font-size="9.8" text-anchor="end" fill="#111" style="font-family:'Liberation Serif',serif">0</text>
<text id="xg0" x="33" y="474" font-size="9.8" text-anchor="middle" fill="#111" style="font-family:'Liberation Serif',serif">0</text>
<text id="xg50" x="79.12" y="474" font-size="9.8" text-anchor="middle" fill="#111" style="font-family:'Liberation Serif',serif">50</text>
<text id="xg100" x="125.24" y="474" font-size="9.8" text-anchor="middle" fill="#111" style="font-family:'Liberation Serif',serif">100</text>
<text id="xg150" x="171.36" y="474" font-size="9.8" text-anchor="middle" fill="#111" style="font-family:'Liberation Serif',serif">150</text>
<text id="xg200" x="217.48" y="474" font-size="9.8" text-anchor="middle" fill="#111" style="font-family:'Liberation Serif',serif">200</text>
<text id="xi0" x="379.5" y="473.2" font-size="9.8" text-anchor="middle" fill="#111" style="font-family:'Liberation Serif',serif">0</text>
<text id="xi50" x="425.52" y="473.2" font-size="9.8" text-anchor="middle" fill="#111" style="font-family:'Liberation Serif',serif">50</text>
<text id="xi100" x="471.54" y="473.2" font-size="9.8" text-anchor="middle" fill="#111" style="font-family:'Liberation Serif',serif">100</text>
<text id="xi150" x="517.56" y="473.2" font-size="9.8" text-anchor="middle" fill="#111" style="font-family:'Liberation Serif',serif">150</text>
<text id="xi200" x="563.58" y="473.2" font-size="9.8" text-anchor="middle" fill="#111" style="font-family:'Liberation Serif',serif">200</text>
<text id="xh0" x="267.2" y="475" font-size="9.8" text-anchor="middle" fill="#111" style="font-family:'Liberation Serif',serif">0</text>
<text id="xh2" x="290.38" y="475" font-size="9.8" text-anchor="middle" fill="#111" style="font-family:'Liberation Serif',serif">2</text>
<text id="xh4" x="313.56" y="475" font-size="9.8" text-anchor="middle" fill="#111" style="font-family:'Liberation Serif',serif">4</text>
<text id="xh6" x="336.73" y="475" font-size="9.8" text-anchor="middle" fill="#111" style="font-family:'Liberation Serif',serif">6</text>
<text id="xh8" x="359.91" y="475" font-size="9.8" text-anchor="middle" fill="#111" style="font-family:'Liberation Serif',serif">8</text>
<text id="xj0" x="614.1" y="475" font-size="9.8" text-anchor="middle" fill="#111" style="font-family:'Liberation Serif',serif">0</text>
<text id="xj2" x="637.19" y="475" font-size="9.8" text-anchor="middle" fill="#111" style="font-family:'Liberation Serif',serif">2</text>
<text id="xj4" x="660.28" y="475" font-size="9.8" text-anchor="middle" fill="#111" style="font-family:'Liberation Serif',serif">4</text>
<text id="xj6" x="683.37" y="475" font-size="9.8" text-anchor="middle" fill="#111" style="font-family:'Liberation Serif',serif">6</text>
<text id="xj8" x="706.46" y="475" font-size="9.8" text-anchor="middle" fill="#111" style="font-family:'Liberation Serif',serif">8</text>
<text id="tg" x="148.3" y="491" font-size="11.8" text-anchor="middle" fill="#111" style="font-family:'Liberation Serif',serif">t [ms]</text>
<text id="ti" x="494.8" y="491" font-size="11.8" text-anchor="middle" fill="#111" style="font-family:'Liberation Serif',serif">t [ms]</text>
<text id="ph" x="320" y="491" font-size="12" text-anchor="middle" fill="#111" style="font-family:'Liberation Serif',serif">pdf</text>
<text id="pj" x="666" y="491" font-size="12" text-anchor="middle" fill="#111" style="font-family:'Liberation Serif',serif">pdf</text>
<text transform="translate(9.4,78.7) rotate(-90)" font-size="11.5" text-anchor="middle" fill="#111" style="font-family:'Liberation Serif',serif">v [px]</text>
<text transform="translate(9.6,233.5) rotate(-90)" font-size="11.8" text-anchor="middle" fill="#111" style="font-family:'Liberation Serif',serif">Error [px]</text>
<text transform="translate(9.6,388.5) rotate(-90)" font-size="11.8" text-anchor="middle" fill="#111" style="font-family:'Liberation Serif',serif">Error [px]</text>
<line x1="267.5" y1="279.7" x2="277.5" y2="279.7" stroke="#d32e34" stroke-width="1.3" stroke-dasharray="2.8,3.6"/>
<line x1="267.5" y1="292.3" x2="315" y2="292.3" stroke="#111" stroke-width="1.2" stroke-dasharray="3.6,3.6"/>
<line x1="299.2" y1="226.3" x2="269.71" y2="271.77" stroke="#d32e34" stroke-width="1.0"/>
<polygon points="267.1,275.8 267.99,269.46 272.52,272.4" fill="#d32e34"/>
<line x1="312.6" y1="238.6" x2="270.39" y2="286.01" stroke="#111" stroke-width="0.9"/>
<polygon points="267.2,289.6 269.04,283.47 273.07,287.06" fill="#111"/>
<polyline points="318.2,264.2 284.9,284.4 283.4,284.0" fill="none" stroke="#2b5594" stroke-width="0.9"/>
<line x1="281.6" y1="282" x2="281.6" y2="289.5" stroke="#2b5594" stroke-width="1.5"/>
<polygon points="281.6,278.8 279.2,283.4 284.0,283.4" fill="#2b5594"/>
<polygon points="281.6,292.8 279.2,288.2 284.0,288.2" fill="#2b5594"/>
<text id="dr" x="295.22" y="223.24" font-size="16.8" text-anchor="start" fill="#d32e34" style="font-family:'Liberation Serif',serif;font-style:italic">&#948;</text>
<text id="drM" transform="translate(302.22,224.98) scale(1.12,1)" font-size="9.8" text-anchor="start" fill="#d32e34" style="font-family:'Liberation Sans',sans-serif">M</text>
<path d="M316.9 230.6Q318.5 227.6 319.1 226.9Q319.7 227.6 321.3 230.6" fill="none" stroke="#111" stroke-width="1.0" stroke-linejoin="round" stroke-linecap="round"/>
<text id="db" x="313.32" y="239.5" font-size="14.5" text-anchor="start" fill="#111" style="font-family:'Liberation Serif',serif;font-style:italic">&#948;</text>
<text id="dbM" transform="translate(321.74,241.48) scale(1.12,1)" font-size="9.8" text-anchor="start" fill="#111" style="font-family:'Liberation Sans',sans-serif">M</text>
<text id="dD" x="320.66" y="260.2" font-size="12.8" text-anchor="start" fill="#2b5594" style="font-family:'Liberation Sans',sans-serif">&#916;</text>
<text id="dDd" x="329.16" y="260.2" font-size="15.18" text-anchor="start" fill="#2b5594" style="font-family:'Liberation Sans',sans-serif">&#948;</text>
<line x1="614.5" y1="290.3" x2="664.6" y2="290.3" stroke="#111" stroke-width="1.2" stroke-dasharray="3.6,3.8"/>
<line x1="615.5" y1="292.2" x2="662.5" y2="292.2" stroke="#d32e34" stroke-width="1.3" stroke-dasharray="3.6,3.8"/>
<path d="M617.9 276.1Q619.15 274.3 619.75 273.6Q620.35 274.3 621.6 276.1" fill="none" stroke="#111" stroke-width="1.0" stroke-linejoin="round" stroke-linecap="round"/>
<text id="fb" x="614.56" y="285.98" font-size="15" text-anchor="start" fill="#111" style="font-family:'Liberation Serif',serif;font-style:italic">&#948;</text>
<text id="fbM" transform="translate(622.32,288.48) scale(1.12,1)" font-size="9.8" text-anchor="start" fill="#111" style="font-family:'Liberation Sans',sans-serif">M</text>
<text id="fr" x="614.48" y="303.52" font-size="15" text-anchor="start" fill="#d32e34" style="font-family:'Liberation Serif',serif;font-style:italic">&#948;</text>
<text id="frM" transform="translate(621.34,305.24) scale(1.12,1)" font-size="9.8" text-anchor="start" fill="#d32e34" style="font-family:'Liberation Sans',sans-serif">M</text>
<line x1="276.5" y1="455" x2="352" y2="455" stroke="#111" stroke-width="1.2" stroke-dasharray="4,4.3"/>
<line x1="268.4" y1="458" x2="356" y2="458" stroke="#d32e34" stroke-width="1.6" stroke-dasharray="3.6,4.4"/>
<line x1="334.3" y1="437.2" x2="276.11" y2="453.92" stroke="#d32e34" stroke-width="1.0"/>
<polygon points="271.3,455.3 276.38,451.24 277.76,456.05" fill="#d32e34"/>
<text id="hr" x="333.12" y="437.02" font-size="17" text-anchor="start" fill="#d32e34" style="font-family:'Liberation Serif',serif;font-style:italic">&#948;</text>
<text id="hrM" transform="translate(340.54,438.24) scale(1.12,1)" font-size="9.8" text-anchor="start" fill="#d32e34" style="font-family:'Liberation Sans',sans-serif">M</text>
<path d="M270.8 439.6Q272.1 438.3 272.7 437.6Q273.3 438.3 274.6 439.6" fill="none" stroke="#111" stroke-width="1.0" stroke-linejoin="round" stroke-linecap="round"/>
<text id="hb" x="267.96" y="450.74" font-size="15.5" text-anchor="start" fill="#111" style="font-family:'Liberation Serif',serif;font-style:italic">&#948;</text>
<text id="hbM" transform="translate(275.78,452.26) scale(1.12,1)" font-size="9.8" text-anchor="start" fill="#111" style="font-family:'Liberation Sans',sans-serif">M</text>
<line x1="614.5" y1="448.8" x2="686.9" y2="448.8" stroke="#111" stroke-width="1.2" stroke-dasharray="3.6,4"/>
<line x1="616.5" y1="450.9" x2="673.4" y2="450.9" stroke="#d32e34" stroke-width="1.6" stroke-dasharray="3.7,3.8"/>
<path d="M619.9 435.9Q621.15 434 621.75 433.3Q622.35 434 623.6 435.9" fill="none" stroke="#111" stroke-width="1.0" stroke-linejoin="round" stroke-linecap="round"/>
<text id="jb" x="616.22" y="445.98" font-size="15.5" text-anchor="start" fill="#111" style="font-family:'Liberation Serif',serif;font-style:italic">&#948;</text>
<text id="jbM" transform="translate(623.74,448.74) scale(1.12,1)" font-size="9.8" text-anchor="start" fill="#111" style="font-family:'Liberation Sans',sans-serif">M</text>
<text id="jr" x="615.34" y="462.24" font-size="15" text-anchor="start" fill="#d32e34" style="font-family:'Liberation Serif',serif;font-style:italic">&#948;</text>
<text id="jrM" transform="translate(622.12,462.98) scale(1.12,1)" font-size="9.8" text-anchor="start" fill="#d32e34" style="font-family:'Liberation Sans',sans-serif">M</text>
</svg>
</body></html>
